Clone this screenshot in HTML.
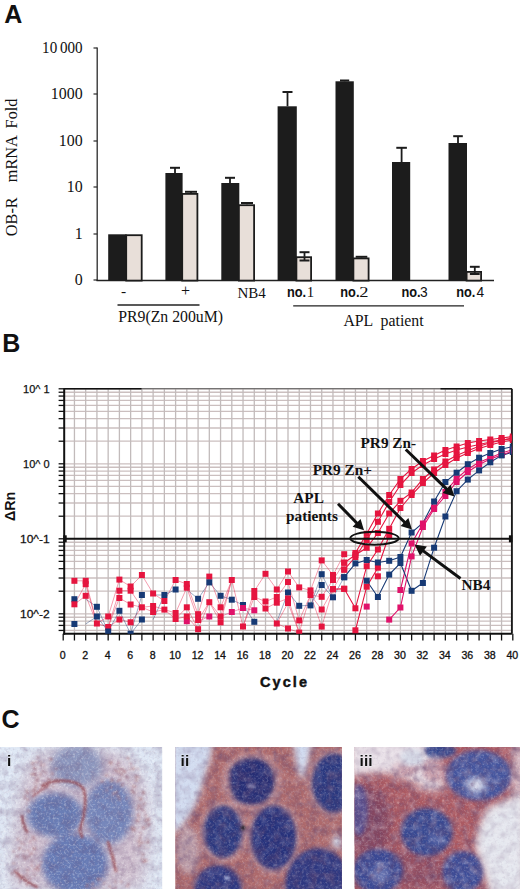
<!DOCTYPE html>
<html><head><meta charset="utf-8"><title>Figure</title>
<style>html,body{margin:0;padding:0;background:#fff;} body{width:520px;height:889px;overflow:hidden;font-family:"Liberation Sans",sans-serif;} svg{display:block;filter:blur(0.3px);}</style>
</head><body>
<svg width="520" height="889" viewBox="0 0 520 889">
<rect width="520" height="889" fill="#fff"/>
<text x="4.3" y="23.1" font-family="'Liberation Sans', sans-serif" font-weight="bold" font-size="25" fill="#111">A</text>
<line x1="97.2" y1="47.5" x2="97.2" y2="281" stroke="#2a2a2a" stroke-width="1.3"/>
<line x1="93.5" y1="48" x2="97.2" y2="48" stroke="#2a2a2a" stroke-width="1.2"/>
<text transform="translate(82.6,53.0) scale(0.92,1)" text-anchor="end" font-family="'Liberation Serif', serif" font-size="16.4" fill="#111">000</text>
<text transform="translate(57.2,53.0) scale(0.92,1)" text-anchor="end" font-family="'Liberation Serif', serif" font-size="16.4" fill="#111">10</text>
<line x1="93.5" y1="94" x2="97.2" y2="94" stroke="#2a2a2a" stroke-width="1.2"/>
<text transform="translate(82.6,99.0) scale(0.97,1)" text-anchor="end" font-family="'Liberation Serif', serif" font-size="16.4" fill="#111">1000</text>
<line x1="93.5" y1="141" x2="97.2" y2="141" stroke="#2a2a2a" stroke-width="1.2"/>
<text transform="translate(82.6,146.0) scale(0.97,1)" text-anchor="end" font-family="'Liberation Serif', serif" font-size="16.4" fill="#111">100</text>
<line x1="93.5" y1="187" x2="97.2" y2="187" stroke="#2a2a2a" stroke-width="1.2"/>
<text transform="translate(82.6,192.0) scale(0.97,1)" text-anchor="end" font-family="'Liberation Serif', serif" font-size="16.4" fill="#111">10</text>
<line x1="93.5" y1="234" x2="97.2" y2="234" stroke="#2a2a2a" stroke-width="1.2"/>
<text transform="translate(82.6,239.0) scale(0.97,1)" text-anchor="end" font-family="'Liberation Serif', serif" font-size="16.4" fill="#111">1</text>
<line x1="93.5" y1="280" x2="97.2" y2="280" stroke="#2a2a2a" stroke-width="1.2"/>
<text transform="translate(82.6,285.0) scale(0.97,1)" text-anchor="end" font-family="'Liberation Serif', serif" font-size="16.4" fill="#111">0</text>
<text transform="translate(16.9,236.2) rotate(-90)" font-family="'Liberation Serif', serif" font-size="16.3" fill="#111">OB-R</text>
<text transform="translate(16.9,182.2) rotate(-90)" font-family="'Liberation Serif', serif" font-size="16.3" fill="#111">mRNA</text>
<text transform="translate(16.9,128.4) rotate(-90)" font-family="'Liberation Serif', serif" font-size="16.3" fill="#111">Fold</text>
<line x1="96.5" y1="280.6" x2="494" y2="280.6" stroke="#222" stroke-width="1.5"/>
<rect x="108.2" y="234.3" width="18.39999999999999" height="46.30000000000001" fill="#1c1c1c"/>
<rect x="126.19999999999999" y="235.20000000000002" width="15.5" height="45.40000000000001" fill="#e8dfd9" stroke="#1c1c1c" stroke-width="1.8"/>
<rect x="165.4" y="173.0" width="17.19999999999999" height="107.60000000000002" fill="#1c1c1c"/>
<rect x="182.2" y="193.9" width="15.200000000000017" height="86.70000000000002" fill="#e8dfd9" stroke="#1c1c1c" stroke-width="1.8"/>
<rect x="221.3" y="183.0" width="18.0" height="97.60000000000002" fill="#1c1c1c"/>
<rect x="238.9" y="205.20000000000002" width="15.199999999999989" height="75.4" fill="#e8dfd9" stroke="#1c1c1c" stroke-width="1.8"/>
<rect x="277.6" y="106.3" width="19.19999999999999" height="174.3" fill="#1c1c1c"/>
<rect x="296.40000000000003" y="257.2" width="14.699999999999989" height="23.400000000000013" fill="#e8dfd9" stroke="#1c1c1c" stroke-width="1.8"/>
<rect x="335.5" y="81.3" width="18.30000000000001" height="199.3" fill="#1c1c1c"/>
<rect x="353.40000000000003" y="258.4" width="15.199999999999989" height="22.200000000000024" fill="#e8dfd9" stroke="#1c1c1c" stroke-width="1.8"/>
<rect x="392.0" y="162.0" width="18.19999999999999" height="118.60000000000002" fill="#1c1c1c"/>
<rect x="448.5" y="143.0" width="18.5" height="137.60000000000002" fill="#1c1c1c"/>
<rect x="466.6" y="271.9" width="14.5" height="8.700000000000022" fill="#e8dfd9" stroke="#1c1c1c" stroke-width="1.8"/>
<line x1="175.0" y1="173" x2="175.0" y2="167.8" stroke="#1c1c1c" stroke-width="1.8"/>
<line x1="170.0" y1="167.8" x2="180.0" y2="167.8" stroke="#1c1c1c" stroke-width="2"/>
<line x1="191.0" y1="193" x2="191.0" y2="191.8" stroke="#1c1c1c" stroke-width="1.8"/>
<line x1="185.0" y1="191.8" x2="197.0" y2="191.8" stroke="#1c1c1c" stroke-width="2"/>
<line x1="230.0" y1="183" x2="230.0" y2="177.8" stroke="#1c1c1c" stroke-width="1.8"/>
<line x1="225.0" y1="177.8" x2="235.0" y2="177.8" stroke="#1c1c1c" stroke-width="2"/>
<line x1="247.0" y1="204.3" x2="247.0" y2="203.0" stroke="#1c1c1c" stroke-width="1.8"/>
<line x1="241.0" y1="203.0" x2="253.0" y2="203.0" stroke="#1c1c1c" stroke-width="2"/>
<line x1="287.5" y1="106.3" x2="287.5" y2="92.0" stroke="#1c1c1c" stroke-width="1.8"/>
<line x1="282.5" y1="92.0" x2="292.5" y2="92.0" stroke="#1c1c1c" stroke-width="2"/>
<line x1="304.5" y1="256.3" x2="304.5" y2="252.2" stroke="#1c1c1c" stroke-width="1.8"/>
<line x1="299.5" y1="252.2" x2="309.5" y2="252.2" stroke="#1c1c1c" stroke-width="2"/>
<line x1="304.5" y1="256.3" x2="304.5" y2="260.5" stroke="#1c1c1c" stroke-width="1.8"/>
<line x1="299.5" y1="260.5" x2="309.5" y2="260.5" stroke="#1c1c1c" stroke-width="2"/>
<line x1="344.6" y1="81.3" x2="344.6" y2="80.5" stroke="#1c1c1c" stroke-width="1.8"/>
<line x1="340.0" y1="80.5" x2="349.20000000000005" y2="80.5" stroke="#1c1c1c" stroke-width="2"/>
<line x1="361.5" y1="257.5" x2="361.5" y2="256.8" stroke="#1c1c1c" stroke-width="1.8"/>
<line x1="355.7" y1="256.8" x2="367.3" y2="256.8" stroke="#1c1c1c" stroke-width="2"/>
<line x1="401.6" y1="162.0" x2="401.6" y2="147.8" stroke="#1c1c1c" stroke-width="1.8"/>
<line x1="396.3" y1="147.8" x2="406.90000000000003" y2="147.8" stroke="#1c1c1c" stroke-width="2"/>
<line x1="458.0" y1="143.0" x2="458.0" y2="136.2" stroke="#1c1c1c" stroke-width="1.8"/>
<line x1="453.2" y1="136.2" x2="462.8" y2="136.2" stroke="#1c1c1c" stroke-width="2"/>
<line x1="474.8" y1="271.0" x2="474.8" y2="266.8" stroke="#1c1c1c" stroke-width="1.8"/>
<line x1="469.90000000000003" y1="266.8" x2="479.7" y2="266.8" stroke="#1c1c1c" stroke-width="2"/>
<line x1="474.8" y1="271.0" x2="474.8" y2="274.0" stroke="#1c1c1c" stroke-width="1.8"/>
<line x1="469.90000000000003" y1="274.0" x2="479.7" y2="274.0" stroke="#1c1c1c" stroke-width="2"/>
<text x="123.6" y="296.2" text-anchor="middle" font-family="'Liberation Serif', serif" font-size="15.5" fill="#111">-</text>
<text x="185.6" y="296.3" text-anchor="middle" font-family="'Liberation Serif', serif" font-size="16" fill="#111">+</text>
<text x="237.5" y="297.6" font-family="'Liberation Serif', serif" font-size="15" fill="#111">NB4</text>
<text transform="translate(287.0,297.0) scale(0.9,1)" font-family="'Liberation Sans', sans-serif" font-weight="bold" font-size="14.2" fill="#111">no.</text>
<text transform="translate(306.8,297.0) scale(1.0,1)" font-family="'Liberation Serif', serif" font-size="14.8" fill="#111">1</text>
<text transform="translate(340.3,297.0) scale(0.9,1)" font-family="'Liberation Sans', sans-serif" font-weight="bold" font-size="14.2" fill="#111">no.</text>
<text transform="translate(359.3,297.0) scale(1.25,1)" font-family="'Liberation Serif', serif" font-size="14.8" fill="#111">2</text>
<text transform="translate(401.4,297.0) scale(0.9,1)" font-family="'Liberation Sans', sans-serif" font-weight="bold" font-size="14.2" fill="#111">no.</text>
<text x="420.1" y="297.0" font-family="'Liberation Sans', sans-serif" font-size="13.8" fill="#111">3</text>
<text transform="translate(456.2,297.0) scale(0.9,1)" font-family="'Liberation Sans', sans-serif" font-weight="bold" font-size="14.2" fill="#111">no.</text>
<text x="476.40000000000003" y="297.0" font-family="'Liberation Sans', sans-serif" font-size="13.8" fill="#111">4</text>
<line x1="117.5" y1="305" x2="199.5" y2="305" stroke="#222" stroke-width="1.3"/>
<line x1="293.2" y1="305.8" x2="464" y2="305.8" stroke="#222" stroke-width="1.3"/>
<text x="118.2" y="322.2" font-family="'Liberation Serif', serif" font-size="15.8" fill="#111">PR9(Zn 200uM)</text>
<text x="343.4" y="326" font-family="'Liberation Serif', serif" font-size="15.8" fill="#111">APL<tspan x="380.6">patient</tspan></text>
<text x="2.2" y="351.6" font-family="'Liberation Sans', sans-serif" font-weight="bold" font-size="25" fill="#111">B</text>
<line x1="64.2" y1="388.8" x2="511.9" y2="388.8" stroke="#cbbfbf" stroke-width="1.3"/>
<line x1="64.2" y1="392.23" x2="511.9" y2="392.23" stroke="#cbbfbf" stroke-width="1.3"/>
<line x1="64.2" y1="396.07" x2="511.9" y2="396.07" stroke="#cbbfbf" stroke-width="1.3"/>
<line x1="64.2" y1="400.42" x2="511.9" y2="400.42" stroke="#cbbfbf" stroke-width="1.3"/>
<line x1="64.2" y1="405.44" x2="511.9" y2="405.44" stroke="#cbbfbf" stroke-width="1.3"/>
<line x1="64.2" y1="411.38" x2="511.9" y2="411.38" stroke="#cbbfbf" stroke-width="1.3"/>
<line x1="64.2" y1="418.65" x2="511.9" y2="418.65" stroke="#cbbfbf" stroke-width="1.3"/>
<line x1="64.2" y1="428.02" x2="511.9" y2="428.02" stroke="#cbbfbf" stroke-width="1.3"/>
<line x1="64.2" y1="441.22" x2="511.9" y2="441.22" stroke="#cbbfbf" stroke-width="1.3"/>
<line x1="64.2" y1="463.8" x2="511.9" y2="463.8" stroke="#cbbfbf" stroke-width="1.3"/>
<line x1="64.2" y1="467.23" x2="511.9" y2="467.23" stroke="#cbbfbf" stroke-width="1.3"/>
<line x1="64.2" y1="471.07" x2="511.9" y2="471.07" stroke="#cbbfbf" stroke-width="1.3"/>
<line x1="64.2" y1="475.42" x2="511.9" y2="475.42" stroke="#cbbfbf" stroke-width="1.3"/>
<line x1="64.2" y1="480.44" x2="511.9" y2="480.44" stroke="#cbbfbf" stroke-width="1.3"/>
<line x1="64.2" y1="486.38" x2="511.9" y2="486.38" stroke="#cbbfbf" stroke-width="1.3"/>
<line x1="64.2" y1="493.65" x2="511.9" y2="493.65" stroke="#cbbfbf" stroke-width="1.3"/>
<line x1="64.2" y1="503.02" x2="511.9" y2="503.02" stroke="#cbbfbf" stroke-width="1.3"/>
<line x1="64.2" y1="516.22" x2="511.9" y2="516.22" stroke="#cbbfbf" stroke-width="1.3"/>
<line x1="64.2" y1="538.8" x2="511.9" y2="538.8" stroke="#cbbfbf" stroke-width="1.3"/>
<line x1="64.2" y1="542.23" x2="511.9" y2="542.23" stroke="#cbbfbf" stroke-width="1.3"/>
<line x1="64.2" y1="546.07" x2="511.9" y2="546.07" stroke="#cbbfbf" stroke-width="1.3"/>
<line x1="64.2" y1="550.42" x2="511.9" y2="550.42" stroke="#cbbfbf" stroke-width="1.3"/>
<line x1="64.2" y1="555.44" x2="511.9" y2="555.44" stroke="#cbbfbf" stroke-width="1.3"/>
<line x1="64.2" y1="561.38" x2="511.9" y2="561.38" stroke="#cbbfbf" stroke-width="1.3"/>
<line x1="64.2" y1="568.65" x2="511.9" y2="568.65" stroke="#cbbfbf" stroke-width="1.3"/>
<line x1="64.2" y1="578.02" x2="511.9" y2="578.02" stroke="#cbbfbf" stroke-width="1.3"/>
<line x1="64.2" y1="591.22" x2="511.9" y2="591.22" stroke="#cbbfbf" stroke-width="1.3"/>
<line x1="64.2" y1="613.8" x2="511.9" y2="613.8" stroke="#cbbfbf" stroke-width="1.3"/>
<line x1="64.2" y1="617.23" x2="511.9" y2="617.23" stroke="#cbbfbf" stroke-width="1.3"/>
<line x1="64.2" y1="621.07" x2="511.9" y2="621.07" stroke="#cbbfbf" stroke-width="1.3"/>
<line x1="64.2" y1="625.42" x2="511.9" y2="625.42" stroke="#cbbfbf" stroke-width="1.3"/>
<line x1="64.2" y1="630.44" x2="511.9" y2="630.44" stroke="#cbbfbf" stroke-width="1.3"/>
<line x1="74.44" y1="388.8" x2="74.44" y2="633.8" stroke="#c2bbbb" stroke-width="1.3"/>
<line x1="85.68" y1="388.8" x2="85.68" y2="633.8" stroke="#c2bbbb" stroke-width="1.3"/>
<line x1="96.92" y1="388.8" x2="96.92" y2="633.8" stroke="#c2bbbb" stroke-width="1.3"/>
<line x1="108.16" y1="388.8" x2="108.16" y2="633.8" stroke="#c2bbbb" stroke-width="1.3"/>
<line x1="119.4" y1="388.8" x2="119.4" y2="633.8" stroke="#c2bbbb" stroke-width="1.3"/>
<line x1="130.64" y1="388.8" x2="130.64" y2="633.8" stroke="#c2bbbb" stroke-width="1.3"/>
<line x1="141.88" y1="388.8" x2="141.88" y2="633.8" stroke="#c2bbbb" stroke-width="1.3"/>
<line x1="153.12" y1="388.8" x2="153.12" y2="633.8" stroke="#c2bbbb" stroke-width="1.3"/>
<line x1="164.36" y1="388.8" x2="164.36" y2="633.8" stroke="#c2bbbb" stroke-width="1.3"/>
<line x1="175.60000000000002" y1="388.8" x2="175.60000000000002" y2="633.8" stroke="#c2bbbb" stroke-width="1.3"/>
<line x1="186.84" y1="388.8" x2="186.84" y2="633.8" stroke="#c2bbbb" stroke-width="1.3"/>
<line x1="198.07999999999998" y1="388.8" x2="198.07999999999998" y2="633.8" stroke="#c2bbbb" stroke-width="1.3"/>
<line x1="209.32" y1="388.8" x2="209.32" y2="633.8" stroke="#c2bbbb" stroke-width="1.3"/>
<line x1="220.56" y1="388.8" x2="220.56" y2="633.8" stroke="#c2bbbb" stroke-width="1.3"/>
<line x1="231.8" y1="388.8" x2="231.8" y2="633.8" stroke="#c2bbbb" stroke-width="1.3"/>
<line x1="243.04000000000002" y1="388.8" x2="243.04000000000002" y2="633.8" stroke="#c2bbbb" stroke-width="1.3"/>
<line x1="254.28000000000003" y1="388.8" x2="254.28000000000003" y2="633.8" stroke="#c2bbbb" stroke-width="1.3"/>
<line x1="265.52" y1="388.8" x2="265.52" y2="633.8" stroke="#c2bbbb" stroke-width="1.3"/>
<line x1="276.76" y1="388.8" x2="276.76" y2="633.8" stroke="#c2bbbb" stroke-width="1.3"/>
<line x1="288.0" y1="388.8" x2="288.0" y2="633.8" stroke="#c2bbbb" stroke-width="1.3"/>
<line x1="299.24" y1="388.8" x2="299.24" y2="633.8" stroke="#c2bbbb" stroke-width="1.3"/>
<line x1="310.48" y1="388.8" x2="310.48" y2="633.8" stroke="#c2bbbb" stroke-width="1.3"/>
<line x1="321.71999999999997" y1="388.8" x2="321.71999999999997" y2="633.8" stroke="#c2bbbb" stroke-width="1.3"/>
<line x1="332.96" y1="388.8" x2="332.96" y2="633.8" stroke="#c2bbbb" stroke-width="1.3"/>
<line x1="344.2" y1="388.8" x2="344.2" y2="633.8" stroke="#c2bbbb" stroke-width="1.3"/>
<line x1="355.44" y1="388.8" x2="355.44" y2="633.8" stroke="#c2bbbb" stroke-width="1.3"/>
<line x1="366.68" y1="388.8" x2="366.68" y2="633.8" stroke="#c2bbbb" stroke-width="1.3"/>
<line x1="377.92" y1="388.8" x2="377.92" y2="633.8" stroke="#c2bbbb" stroke-width="1.3"/>
<line x1="389.15999999999997" y1="388.8" x2="389.15999999999997" y2="633.8" stroke="#c2bbbb" stroke-width="1.3"/>
<line x1="400.4" y1="388.8" x2="400.4" y2="633.8" stroke="#c2bbbb" stroke-width="1.3"/>
<line x1="411.64" y1="388.8" x2="411.64" y2="633.8" stroke="#c2bbbb" stroke-width="1.3"/>
<line x1="422.88" y1="388.8" x2="422.88" y2="633.8" stroke="#c2bbbb" stroke-width="1.3"/>
<line x1="434.12" y1="388.8" x2="434.12" y2="633.8" stroke="#c2bbbb" stroke-width="1.3"/>
<line x1="445.36" y1="388.8" x2="445.36" y2="633.8" stroke="#c2bbbb" stroke-width="1.3"/>
<line x1="456.6" y1="388.8" x2="456.6" y2="633.8" stroke="#c2bbbb" stroke-width="1.3"/>
<line x1="467.84" y1="388.8" x2="467.84" y2="633.8" stroke="#c2bbbb" stroke-width="1.3"/>
<line x1="479.08" y1="388.8" x2="479.08" y2="633.8" stroke="#c2bbbb" stroke-width="1.3"/>
<line x1="490.32" y1="388.8" x2="490.32" y2="633.8" stroke="#c2bbbb" stroke-width="1.3"/>
<line x1="501.56" y1="388.8" x2="501.56" y2="633.8" stroke="#c2bbbb" stroke-width="1.3"/>
<line x1="58.6" y1="388.8" x2="64.2" y2="388.8" stroke="#111" stroke-width="1.3"/>
<line x1="58.6" y1="392.23" x2="64.2" y2="392.23" stroke="#111" stroke-width="1.3"/>
<line x1="58.6" y1="396.07" x2="64.2" y2="396.07" stroke="#111" stroke-width="1.3"/>
<line x1="58.6" y1="400.42" x2="64.2" y2="400.42" stroke="#111" stroke-width="1.3"/>
<line x1="58.6" y1="405.44" x2="64.2" y2="405.44" stroke="#111" stroke-width="1.3"/>
<line x1="58.6" y1="411.38" x2="64.2" y2="411.38" stroke="#111" stroke-width="1.3"/>
<line x1="58.6" y1="418.65" x2="64.2" y2="418.65" stroke="#111" stroke-width="1.3"/>
<line x1="58.6" y1="428.02" x2="64.2" y2="428.02" stroke="#111" stroke-width="1.3"/>
<line x1="58.6" y1="441.22" x2="64.2" y2="441.22" stroke="#111" stroke-width="1.3"/>
<line x1="58.6" y1="463.8" x2="64.2" y2="463.8" stroke="#111" stroke-width="1.3"/>
<line x1="58.6" y1="467.23" x2="64.2" y2="467.23" stroke="#111" stroke-width="1.3"/>
<line x1="58.6" y1="471.07" x2="64.2" y2="471.07" stroke="#111" stroke-width="1.3"/>
<line x1="58.6" y1="475.42" x2="64.2" y2="475.42" stroke="#111" stroke-width="1.3"/>
<line x1="58.6" y1="480.44" x2="64.2" y2="480.44" stroke="#111" stroke-width="1.3"/>
<line x1="58.6" y1="486.38" x2="64.2" y2="486.38" stroke="#111" stroke-width="1.3"/>
<line x1="58.6" y1="493.65" x2="64.2" y2="493.65" stroke="#111" stroke-width="1.3"/>
<line x1="58.6" y1="503.02" x2="64.2" y2="503.02" stroke="#111" stroke-width="1.3"/>
<line x1="58.6" y1="516.22" x2="64.2" y2="516.22" stroke="#111" stroke-width="1.3"/>
<line x1="58.6" y1="538.8" x2="64.2" y2="538.8" stroke="#111" stroke-width="1.3"/>
<line x1="58.6" y1="542.23" x2="64.2" y2="542.23" stroke="#111" stroke-width="1.3"/>
<line x1="58.6" y1="546.07" x2="64.2" y2="546.07" stroke="#111" stroke-width="1.3"/>
<line x1="58.6" y1="550.42" x2="64.2" y2="550.42" stroke="#111" stroke-width="1.3"/>
<line x1="58.6" y1="555.44" x2="64.2" y2="555.44" stroke="#111" stroke-width="1.3"/>
<line x1="58.6" y1="561.38" x2="64.2" y2="561.38" stroke="#111" stroke-width="1.3"/>
<line x1="58.6" y1="568.65" x2="64.2" y2="568.65" stroke="#111" stroke-width="1.3"/>
<line x1="58.6" y1="578.02" x2="64.2" y2="578.02" stroke="#111" stroke-width="1.3"/>
<line x1="58.6" y1="591.22" x2="64.2" y2="591.22" stroke="#111" stroke-width="1.3"/>
<line x1="58.6" y1="613.8" x2="64.2" y2="613.8" stroke="#111" stroke-width="1.3"/>
<line x1="58.6" y1="617.23" x2="64.2" y2="617.23" stroke="#111" stroke-width="1.3"/>
<line x1="58.6" y1="621.07" x2="64.2" y2="621.07" stroke="#111" stroke-width="1.3"/>
<line x1="58.6" y1="625.42" x2="64.2" y2="625.42" stroke="#111" stroke-width="1.3"/>
<line x1="58.6" y1="630.44" x2="64.2" y2="630.44" stroke="#111" stroke-width="1.3"/>
<line x1="63.2" y1="633.8" x2="63.2" y2="640.5" stroke="#111" stroke-width="1.3"/>
<line x1="74.44" y1="633.8" x2="74.44" y2="640.5" stroke="#111" stroke-width="1.3"/>
<line x1="85.68" y1="633.8" x2="85.68" y2="640.5" stroke="#111" stroke-width="1.3"/>
<line x1="96.92" y1="633.8" x2="96.92" y2="640.5" stroke="#111" stroke-width="1.3"/>
<line x1="108.16" y1="633.8" x2="108.16" y2="640.5" stroke="#111" stroke-width="1.3"/>
<line x1="119.4" y1="633.8" x2="119.4" y2="640.5" stroke="#111" stroke-width="1.3"/>
<line x1="130.64" y1="633.8" x2="130.64" y2="640.5" stroke="#111" stroke-width="1.3"/>
<line x1="141.88" y1="633.8" x2="141.88" y2="640.5" stroke="#111" stroke-width="1.3"/>
<line x1="153.12" y1="633.8" x2="153.12" y2="640.5" stroke="#111" stroke-width="1.3"/>
<line x1="164.36" y1="633.8" x2="164.36" y2="640.5" stroke="#111" stroke-width="1.3"/>
<line x1="175.60000000000002" y1="633.8" x2="175.60000000000002" y2="640.5" stroke="#111" stroke-width="1.3"/>
<line x1="186.84" y1="633.8" x2="186.84" y2="640.5" stroke="#111" stroke-width="1.3"/>
<line x1="198.07999999999998" y1="633.8" x2="198.07999999999998" y2="640.5" stroke="#111" stroke-width="1.3"/>
<line x1="209.32" y1="633.8" x2="209.32" y2="640.5" stroke="#111" stroke-width="1.3"/>
<line x1="220.56" y1="633.8" x2="220.56" y2="640.5" stroke="#111" stroke-width="1.3"/>
<line x1="231.8" y1="633.8" x2="231.8" y2="640.5" stroke="#111" stroke-width="1.3"/>
<line x1="243.04000000000002" y1="633.8" x2="243.04000000000002" y2="640.5" stroke="#111" stroke-width="1.3"/>
<line x1="254.28000000000003" y1="633.8" x2="254.28000000000003" y2="640.5" stroke="#111" stroke-width="1.3"/>
<line x1="265.52" y1="633.8" x2="265.52" y2="640.5" stroke="#111" stroke-width="1.3"/>
<line x1="276.76" y1="633.8" x2="276.76" y2="640.5" stroke="#111" stroke-width="1.3"/>
<line x1="288.0" y1="633.8" x2="288.0" y2="640.5" stroke="#111" stroke-width="1.3"/>
<line x1="299.24" y1="633.8" x2="299.24" y2="640.5" stroke="#111" stroke-width="1.3"/>
<line x1="310.48" y1="633.8" x2="310.48" y2="640.5" stroke="#111" stroke-width="1.3"/>
<line x1="321.71999999999997" y1="633.8" x2="321.71999999999997" y2="640.5" stroke="#111" stroke-width="1.3"/>
<line x1="332.96" y1="633.8" x2="332.96" y2="640.5" stroke="#111" stroke-width="1.3"/>
<line x1="344.2" y1="633.8" x2="344.2" y2="640.5" stroke="#111" stroke-width="1.3"/>
<line x1="355.44" y1="633.8" x2="355.44" y2="640.5" stroke="#111" stroke-width="1.3"/>
<line x1="366.68" y1="633.8" x2="366.68" y2="640.5" stroke="#111" stroke-width="1.3"/>
<line x1="377.92" y1="633.8" x2="377.92" y2="640.5" stroke="#111" stroke-width="1.3"/>
<line x1="389.15999999999997" y1="633.8" x2="389.15999999999997" y2="640.5" stroke="#111" stroke-width="1.3"/>
<line x1="400.4" y1="633.8" x2="400.4" y2="640.5" stroke="#111" stroke-width="1.3"/>
<line x1="411.64" y1="633.8" x2="411.64" y2="640.5" stroke="#111" stroke-width="1.3"/>
<line x1="422.88" y1="633.8" x2="422.88" y2="640.5" stroke="#111" stroke-width="1.3"/>
<line x1="434.12" y1="633.8" x2="434.12" y2="640.5" stroke="#111" stroke-width="1.3"/>
<line x1="445.36" y1="633.8" x2="445.36" y2="640.5" stroke="#111" stroke-width="1.3"/>
<line x1="456.6" y1="633.8" x2="456.6" y2="640.5" stroke="#111" stroke-width="1.3"/>
<line x1="467.84" y1="633.8" x2="467.84" y2="640.5" stroke="#111" stroke-width="1.3"/>
<line x1="479.08" y1="633.8" x2="479.08" y2="640.5" stroke="#111" stroke-width="1.3"/>
<line x1="490.32" y1="633.8" x2="490.32" y2="640.5" stroke="#111" stroke-width="1.3"/>
<line x1="501.56" y1="633.8" x2="501.56" y2="640.5" stroke="#111" stroke-width="1.3"/>
<line x1="512.8000000000001" y1="633.8" x2="512.8000000000001" y2="640.5" stroke="#111" stroke-width="1.3"/>
<line x1="64.2" y1="388.8" x2="511.9" y2="388.8" stroke="#555" stroke-width="1.1"/>
<line x1="64.2" y1="388.8" x2="141.5" y2="388.8" stroke="#111" stroke-width="1.6"/>
<line x1="440.5" y1="388.8" x2="511.9" y2="388.8" stroke="#111" stroke-width="1.6"/>
<line x1="64.2" y1="388.3" x2="64.2" y2="634.8" stroke="#111" stroke-width="2"/>
<line x1="511.9" y1="388.8" x2="511.9" y2="633.8" stroke="#1a1a1a" stroke-width="1.9"/>
<line x1="63.2" y1="633.8" x2="511.9" y2="633.8" stroke="#111" stroke-width="2"/>
<text transform="translate(49.6,393.0) scale(1.0,1)" text-anchor="end" font-family="'Liberation Sans', sans-serif" font-size="11" fill="#111" stroke="#111" stroke-width="0.25" xml:space="preserve">10^ 1</text>
<text transform="translate(49.6,468.0) scale(1.0,1)" text-anchor="end" font-family="'Liberation Sans', sans-serif" font-size="11" fill="#111" stroke="#111" stroke-width="0.25" xml:space="preserve">10^ 0</text>
<text transform="translate(49.6,543.0) scale(1.09,1)" text-anchor="end" font-family="'Liberation Sans', sans-serif" font-size="11" fill="#111" stroke="#111" stroke-width="0.25" xml:space="preserve">10^-1</text>
<text transform="translate(49.6,618.0) scale(1.09,1)" text-anchor="end" font-family="'Liberation Sans', sans-serif" font-size="11" fill="#111" stroke="#111" stroke-width="0.25" xml:space="preserve">10^-2</text>
<text x="62.7" y="658.8" text-anchor="middle" font-family="'Liberation Sans', sans-serif" font-size="10.6" fill="#111" stroke="#111" stroke-width="0.3">0</text>
<text x="85.18" y="658.8" text-anchor="middle" font-family="'Liberation Sans', sans-serif" font-size="10.6" fill="#111" stroke="#111" stroke-width="0.3">2</text>
<text x="107.66" y="658.8" text-anchor="middle" font-family="'Liberation Sans', sans-serif" font-size="10.6" fill="#111" stroke="#111" stroke-width="0.3">4</text>
<text x="130.14" y="658.8" text-anchor="middle" font-family="'Liberation Sans', sans-serif" font-size="10.6" fill="#111" stroke="#111" stroke-width="0.3">6</text>
<text x="152.62" y="658.8" text-anchor="middle" font-family="'Liberation Sans', sans-serif" font-size="10.6" fill="#111" stroke="#111" stroke-width="0.3">8</text>
<text x="175.10000000000002" y="658.8" text-anchor="middle" font-family="'Liberation Sans', sans-serif" font-size="10.6" fill="#111" stroke="#111" stroke-width="0.3">10</text>
<text x="197.57999999999998" y="658.8" text-anchor="middle" font-family="'Liberation Sans', sans-serif" font-size="10.6" fill="#111" stroke="#111" stroke-width="0.3">12</text>
<text x="220.06" y="658.8" text-anchor="middle" font-family="'Liberation Sans', sans-serif" font-size="10.6" fill="#111" stroke="#111" stroke-width="0.3">14</text>
<text x="242.54000000000002" y="658.8" text-anchor="middle" font-family="'Liberation Sans', sans-serif" font-size="10.6" fill="#111" stroke="#111" stroke-width="0.3">16</text>
<text x="265.02" y="658.8" text-anchor="middle" font-family="'Liberation Sans', sans-serif" font-size="10.6" fill="#111" stroke="#111" stroke-width="0.3">18</text>
<text x="287.5" y="658.8" text-anchor="middle" font-family="'Liberation Sans', sans-serif" font-size="10.6" fill="#111" stroke="#111" stroke-width="0.3">20</text>
<text x="309.98" y="658.8" text-anchor="middle" font-family="'Liberation Sans', sans-serif" font-size="10.6" fill="#111" stroke="#111" stroke-width="0.3">22</text>
<text x="332.46" y="658.8" text-anchor="middle" font-family="'Liberation Sans', sans-serif" font-size="10.6" fill="#111" stroke="#111" stroke-width="0.3">24</text>
<text x="354.94" y="658.8" text-anchor="middle" font-family="'Liberation Sans', sans-serif" font-size="10.6" fill="#111" stroke="#111" stroke-width="0.3">26</text>
<text x="377.42" y="658.8" text-anchor="middle" font-family="'Liberation Sans', sans-serif" font-size="10.6" fill="#111" stroke="#111" stroke-width="0.3">28</text>
<text x="399.9" y="658.8" text-anchor="middle" font-family="'Liberation Sans', sans-serif" font-size="10.6" fill="#111" stroke="#111" stroke-width="0.3">30</text>
<text x="422.38" y="658.8" text-anchor="middle" font-family="'Liberation Sans', sans-serif" font-size="10.6" fill="#111" stroke="#111" stroke-width="0.3">32</text>
<text x="444.86" y="658.8" text-anchor="middle" font-family="'Liberation Sans', sans-serif" font-size="10.6" fill="#111" stroke="#111" stroke-width="0.3">34</text>
<text x="467.34" y="658.8" text-anchor="middle" font-family="'Liberation Sans', sans-serif" font-size="10.6" fill="#111" stroke="#111" stroke-width="0.3">36</text>
<text x="489.82" y="658.8" text-anchor="middle" font-family="'Liberation Sans', sans-serif" font-size="10.6" fill="#111" stroke="#111" stroke-width="0.3">38</text>
<text x="512.3000000000001" y="658.8" text-anchor="middle" font-family="'Liberation Sans', sans-serif" font-size="10.6" fill="#111" stroke="#111" stroke-width="0.3">40</text>
<text x="259.9" y="687" font-family="'Liberation Sans', sans-serif" font-weight="bold" font-size="14.5" letter-spacing="2.1" fill="#111" stroke="#111" stroke-width="0.45">Cycle</text>
<text transform="translate(14.6,521) rotate(-90)" font-family="'Liberation Sans', sans-serif" font-weight="bold" font-size="14.3" fill="#111">&#916;Rn</text>
<defs><clipPath id="pc"><rect x="64.2" y="388.8" width="447.4" height="244.99999999999994"/></clipPath></defs><g clip-path="url(#pc)">
<line x1="74.4" y1="580.8" x2="85.7" y2="580.8" stroke="#e5153f" stroke-width="0.7" opacity="0.6"/>
<line x1="74.4" y1="604.3" x2="85.7" y2="584.2" stroke="#e5153f" stroke-width="0.7" opacity="0.6"/>
<line x1="74.4" y1="604.3" x2="85.7" y2="595.8" stroke="#e5153f" stroke-width="0.7" opacity="0.6"/>
<line x1="85.7" y1="599.2" x2="96.9" y2="606.8" stroke="#173a75" stroke-width="0.7" opacity="0.6"/>
<line x1="85.7" y1="624" x2="96.9" y2="616.5" stroke="#173a75" stroke-width="0.7" opacity="0.6"/>
<line x1="85.7" y1="580.8" x2="96.9" y2="623.5" stroke="#e5153f" stroke-width="0.7" opacity="0.6"/>
<line x1="85.7" y1="584.2" x2="96.9" y2="623.5" stroke="#e5153f" stroke-width="0.7" opacity="0.6"/>
<line x1="85.7" y1="595.8" x2="96.9" y2="623.5" stroke="#e5153f" stroke-width="0.7" opacity="0.6"/>
<line x1="96.9" y1="623.5" x2="108.2" y2="616.5" stroke="#e5153f" stroke-width="0.7" opacity="0.6"/>
<line x1="96.9" y1="623.5" x2="108.2" y2="627" stroke="#e5153f" stroke-width="0.7" opacity="0.6"/>
<line x1="96.9" y1="606.8" x2="108.2" y2="631.5" stroke="#173a75" stroke-width="0.7" opacity="0.6"/>
<line x1="96.9" y1="616.5" x2="108.2" y2="631.5" stroke="#173a75" stroke-width="0.7" opacity="0.6"/>
<line x1="108.2" y1="616.5" x2="119.4" y2="579.6" stroke="#e5153f" stroke-width="0.7" opacity="0.6"/>
<line x1="108.2" y1="627" x2="119.4" y2="590.7" stroke="#e5153f" stroke-width="0.7" opacity="0.6"/>
<line x1="108.2" y1="627" x2="119.4" y2="598" stroke="#e5153f" stroke-width="0.7" opacity="0.6"/>
<line x1="108.2" y1="627" x2="119.4" y2="619.5" stroke="#e5153f" stroke-width="0.7" opacity="0.6"/>
<line x1="108.2" y1="631.5" x2="119.4" y2="610.8" stroke="#173a75" stroke-width="0.7" opacity="0.6"/>
<line x1="119.4" y1="579.6" x2="130.6" y2="586.5" stroke="#e5153f" stroke-width="0.7" opacity="0.6"/>
<line x1="119.4" y1="590.7" x2="130.6" y2="590.7" stroke="#e5153f" stroke-width="0.7" opacity="0.6"/>
<line x1="119.4" y1="598" x2="130.6" y2="604.5" stroke="#e5153f" stroke-width="0.7" opacity="0.6"/>
<line x1="119.4" y1="619.5" x2="130.6" y2="622.3" stroke="#e5153f" stroke-width="0.7" opacity="0.6"/>
<line x1="119.4" y1="610.8" x2="130.6" y2="633.8" stroke="#173a75" stroke-width="0.7" opacity="0.6"/>
<line x1="130.6" y1="586.5" x2="141.9" y2="575" stroke="#e5153f" stroke-width="0.7" opacity="0.6"/>
<line x1="130.6" y1="590.7" x2="141.9" y2="607.3" stroke="#e5153f" stroke-width="0.7" opacity="0.6"/>
<line x1="130.6" y1="604.5" x2="141.9" y2="607.3" stroke="#e5153f" stroke-width="0.7" opacity="0.6"/>
<line x1="130.6" y1="622.3" x2="141.9" y2="607.3" stroke="#e5153f" stroke-width="0.7" opacity="0.6"/>
<line x1="130.6" y1="633.8" x2="141.9" y2="595" stroke="#173a75" stroke-width="0.7" opacity="0.6"/>
<line x1="130.6" y1="633.8" x2="141.9" y2="619.5" stroke="#173a75" stroke-width="0.7" opacity="0.6"/>
<line x1="141.9" y1="575" x2="153.1" y2="593.5" stroke="#e5153f" stroke-width="0.7" opacity="0.6"/>
<line x1="141.9" y1="607.3" x2="153.1" y2="606" stroke="#e5153f" stroke-width="0.7" opacity="0.6"/>
<line x1="141.9" y1="607.3" x2="153.1" y2="612" stroke="#e5153f" stroke-width="0.7" opacity="0.6"/>
<line x1="153.1" y1="595" x2="164.4" y2="595" stroke="#173a75" stroke-width="0.7" opacity="0.6"/>
<line x1="153.1" y1="619.5" x2="164.4" y2="595" stroke="#173a75" stroke-width="0.7" opacity="0.6"/>
<line x1="153.1" y1="593.5" x2="164.4" y2="601" stroke="#e5153f" stroke-width="0.7" opacity="0.6"/>
<line x1="153.1" y1="606" x2="164.4" y2="609.6" stroke="#e5153f" stroke-width="0.7" opacity="0.6"/>
<line x1="153.1" y1="612" x2="164.4" y2="609.6" stroke="#e5153f" stroke-width="0.7" opacity="0.6"/>
<line x1="164.4" y1="601" x2="175.6" y2="580" stroke="#e5153f" stroke-width="0.7" opacity="0.6"/>
<line x1="164.4" y1="609.6" x2="175.6" y2="613" stroke="#e5153f" stroke-width="0.7" opacity="0.6"/>
<line x1="164.4" y1="609.6" x2="175.6" y2="619" stroke="#e5153f" stroke-width="0.7" opacity="0.6"/>
<line x1="164.4" y1="595" x2="175.6" y2="589.5" stroke="#173a75" stroke-width="0.7" opacity="0.6"/>
<line x1="175.6" y1="580" x2="186.8" y2="584" stroke="#e5153f" stroke-width="0.7" opacity="0.6"/>
<line x1="175.6" y1="613" x2="186.8" y2="587.7" stroke="#e5153f" stroke-width="0.7" opacity="0.6"/>
<line x1="175.6" y1="619" x2="186.8" y2="607.3" stroke="#e5153f" stroke-width="0.7" opacity="0.6"/>
<line x1="175.6" y1="619" x2="186.8" y2="616.5" stroke="#e5153f" stroke-width="0.7" opacity="0.6"/>
<line x1="186.8" y1="589.5" x2="198.1" y2="598.8" stroke="#173a75" stroke-width="0.7" opacity="0.6"/>
<line x1="186.8" y1="584" x2="198.1" y2="614.2" stroke="#e5153f" stroke-width="0.7" opacity="0.6"/>
<line x1="186.8" y1="587.7" x2="198.1" y2="620" stroke="#e5153f" stroke-width="0.7" opacity="0.6"/>
<line x1="186.8" y1="607.3" x2="198.1" y2="629.2" stroke="#e5153f" stroke-width="0.7" opacity="0.6"/>
<line x1="186.8" y1="616.5" x2="198.1" y2="629.2" stroke="#e5153f" stroke-width="0.7" opacity="0.6"/>
<line x1="198.1" y1="614.2" x2="209.3" y2="576.6" stroke="#e5153f" stroke-width="0.7" opacity="0.6"/>
<line x1="198.1" y1="620" x2="209.3" y2="602.2" stroke="#e5153f" stroke-width="0.7" opacity="0.6"/>
<line x1="198.1" y1="629.2" x2="209.3" y2="602.2" stroke="#e5153f" stroke-width="0.7" opacity="0.6"/>
<line x1="198.1" y1="598.8" x2="209.3" y2="582.4" stroke="#173a75" stroke-width="0.7" opacity="0.6"/>
<line x1="198.1" y1="621.2" x2="209.3" y2="616.5" stroke="#e0126a" stroke-width="0.7" opacity="0.6"/>
<line x1="209.3" y1="582.4" x2="220.6" y2="595.8" stroke="#173a75" stroke-width="0.7" opacity="0.6"/>
<line x1="209.3" y1="576.6" x2="220.6" y2="607.3" stroke="#e5153f" stroke-width="0.7" opacity="0.6"/>
<line x1="209.3" y1="602.2" x2="220.6" y2="616.5" stroke="#e5153f" stroke-width="0.7" opacity="0.6"/>
<line x1="209.3" y1="602.2" x2="220.6" y2="622.3" stroke="#e5153f" stroke-width="0.7" opacity="0.6"/>
<line x1="220.6" y1="607.3" x2="231.8" y2="580" stroke="#e5153f" stroke-width="0.7" opacity="0.6"/>
<line x1="220.6" y1="616.5" x2="231.8" y2="580" stroke="#e5153f" stroke-width="0.7" opacity="0.6"/>
<line x1="220.6" y1="622.3" x2="231.8" y2="580" stroke="#e5153f" stroke-width="0.7" opacity="0.6"/>
<line x1="220.6" y1="595.8" x2="231.8" y2="599.7" stroke="#173a75" stroke-width="0.7" opacity="0.6"/>
<line x1="220.6" y1="616.5" x2="231.8" y2="612" stroke="#e0126a" stroke-width="0.7" opacity="0.6"/>
<line x1="231.8" y1="599.7" x2="243.0" y2="605" stroke="#173a75" stroke-width="0.7" opacity="0.6"/>
<line x1="231.8" y1="612" x2="243.0" y2="608" stroke="#e0126a" stroke-width="0.7" opacity="0.6"/>
<line x1="231.8" y1="580" x2="243.0" y2="626.5" stroke="#e5153f" stroke-width="0.7" opacity="0.6"/>
<line x1="243.0" y1="626.5" x2="254.3" y2="591" stroke="#e5153f" stroke-width="0.7" opacity="0.6"/>
<line x1="243.0" y1="626.5" x2="254.3" y2="597" stroke="#e5153f" stroke-width="0.7" opacity="0.6"/>
<line x1="243.0" y1="608" x2="254.3" y2="610.3" stroke="#e0126a" stroke-width="0.7" opacity="0.6"/>
<line x1="243.0" y1="605" x2="254.3" y2="621.8" stroke="#173a75" stroke-width="0.7" opacity="0.6"/>
<line x1="254.3" y1="591" x2="265.5" y2="573.8" stroke="#e5153f" stroke-width="0.7" opacity="0.6"/>
<line x1="254.3" y1="597" x2="265.5" y2="601.5" stroke="#e5153f" stroke-width="0.7" opacity="0.6"/>
<line x1="254.3" y1="597" x2="265.5" y2="608.5" stroke="#e5153f" stroke-width="0.7" opacity="0.6"/>
<line x1="265.5" y1="573.8" x2="276.8" y2="589.5" stroke="#e5153f" stroke-width="0.7" opacity="0.6"/>
<line x1="265.5" y1="601.5" x2="276.8" y2="597" stroke="#e5153f" stroke-width="0.7" opacity="0.6"/>
<line x1="265.5" y1="608.5" x2="276.8" y2="602.7" stroke="#e5153f" stroke-width="0.7" opacity="0.6"/>
<line x1="265.5" y1="608.5" x2="276.8" y2="623.5" stroke="#e5153f" stroke-width="0.7" opacity="0.6"/>
<line x1="276.8" y1="589.5" x2="288.0" y2="571.5" stroke="#e5153f" stroke-width="0.7" opacity="0.6"/>
<line x1="276.8" y1="597" x2="288.0" y2="582" stroke="#e5153f" stroke-width="0.7" opacity="0.6"/>
<line x1="276.8" y1="602.7" x2="288.0" y2="598.5" stroke="#e5153f" stroke-width="0.7" opacity="0.6"/>
<line x1="276.8" y1="623.5" x2="288.0" y2="603" stroke="#e5153f" stroke-width="0.7" opacity="0.6"/>
<line x1="276.8" y1="623.5" x2="288.0" y2="628.5" stroke="#e5153f" stroke-width="0.7" opacity="0.6"/>
<line x1="276.8" y1="621.8" x2="288.0" y2="592.5" stroke="#173a75" stroke-width="0.7" opacity="0.6"/>
<line x1="288.0" y1="571.5" x2="299.2" y2="587.4" stroke="#e5153f" stroke-width="0.7" opacity="0.6"/>
<line x1="288.0" y1="582" x2="299.2" y2="620.4" stroke="#e5153f" stroke-width="0.7" opacity="0.6"/>
<line x1="288.0" y1="598.5" x2="299.2" y2="632.6" stroke="#e5153f" stroke-width="0.7" opacity="0.6"/>
<line x1="288.0" y1="603" x2="299.2" y2="632.6" stroke="#e5153f" stroke-width="0.7" opacity="0.6"/>
<line x1="288.0" y1="628.5" x2="299.2" y2="632.6" stroke="#e5153f" stroke-width="0.7" opacity="0.6"/>
<line x1="288.0" y1="592.5" x2="299.2" y2="605.8" stroke="#173a75" stroke-width="0.7" opacity="0.6"/>
<line x1="299.2" y1="587.4" x2="310.5" y2="590.4" stroke="#e5153f" stroke-width="0.7" opacity="0.6"/>
<line x1="299.2" y1="620.4" x2="310.5" y2="595" stroke="#e5153f" stroke-width="0.7" opacity="0.6"/>
<line x1="299.2" y1="632.6" x2="310.5" y2="595" stroke="#e5153f" stroke-width="0.7" opacity="0.6"/>
<line x1="299.2" y1="605.8" x2="310.5" y2="605.4" stroke="#173a75" stroke-width="0.7" opacity="0.6"/>
<line x1="310.5" y1="590.4" x2="321.7" y2="560.4" stroke="#e5153f" stroke-width="0.7" opacity="0.6"/>
<line x1="310.5" y1="595" x2="321.7" y2="596.8" stroke="#e5153f" stroke-width="0.7" opacity="0.6"/>
<line x1="310.5" y1="595" x2="321.7" y2="609.5" stroke="#e5153f" stroke-width="0.7" opacity="0.6"/>
<line x1="310.5" y1="595" x2="321.7" y2="626.6" stroke="#e5153f" stroke-width="0.7" opacity="0.6"/>
<line x1="310.5" y1="605.4" x2="321.7" y2="574.2" stroke="#173a75" stroke-width="0.7" opacity="0.6"/>
<line x1="310.5" y1="605.4" x2="321.7" y2="585" stroke="#173a75" stroke-width="0.7" opacity="0.6"/>
<line x1="321.7" y1="560.4" x2="333.0" y2="575" stroke="#e5153f" stroke-width="0.7" opacity="0.6"/>
<line x1="321.7" y1="596.8" x2="333.0" y2="580" stroke="#e5153f" stroke-width="0.7" opacity="0.6"/>
<line x1="321.7" y1="609.5" x2="333.0" y2="589.2" stroke="#e5153f" stroke-width="0.7" opacity="0.6"/>
<line x1="321.7" y1="626.6" x2="333.0" y2="589.2" stroke="#e5153f" stroke-width="0.7" opacity="0.6"/>
<line x1="321.7" y1="574.2" x2="333.0" y2="597.3" stroke="#173a75" stroke-width="0.7" opacity="0.6"/>
<line x1="321.7" y1="585" x2="333.0" y2="597.3" stroke="#173a75" stroke-width="0.7" opacity="0.6"/>
<line x1="333.0" y1="575" x2="344.2" y2="554.2" stroke="#e5153f" stroke-width="0.7" opacity="0.6"/>
<line x1="333.0" y1="580" x2="344.2" y2="562.7" stroke="#e5153f" stroke-width="0.7" opacity="0.6"/>
<line x1="333.0" y1="589.2" x2="344.2" y2="569.6" stroke="#e5153f" stroke-width="0.7" opacity="0.6"/>
<line x1="333.0" y1="589.2" x2="344.2" y2="588.8" stroke="#e5153f" stroke-width="0.7" opacity="0.6"/>
<line x1="333.0" y1="597.3" x2="344.2" y2="577.2" stroke="#173a75" stroke-width="0.7" opacity="0.6"/>
<polyline points="355.4,553 366.7,533.8 377.9,513.5 389.2,495 400.4,479 411.6,469 422.9,461 434.1,455.5 445.4,450 456.6,446.5 467.8,443 479.1,441 490.3,439.5 501.6,438 512.8,436.5" fill="none" stroke="#e5153f" stroke-width="1.1"/>
<polyline points="344.2,569.6 355.4,557 366.7,540 377.9,521.8 389.2,502 400.4,485 411.6,473 422.9,465 434.1,459 445.4,454 456.6,450 467.8,447 479.1,444.5 490.3,442 501.6,440 512.8,438.5" fill="none" stroke="#e5153f" stroke-width="1.1"/>
<polyline points="344.2,562.7 355.4,555 366.7,547.8 377.9,533 389.2,513.5 400.4,500.8 411.6,492.5 422.9,479 434.1,469.5 445.4,461.5 456.6,455.4 467.8,450.8 479.1,446.2 490.3,442.7 501.6,440.4 512.8,438" fill="none" stroke="#e5153f" stroke-width="1.1"/>
<polyline points="333.0,589.2 344.2,588.8 355.4,608.3 366.7,566.2 377.9,549.5 389.2,528.8 400.4,508 411.6,495 422.9,483 434.1,473 445.4,465 456.6,458 467.8,453 479.1,448.5 490.3,445 501.6,442 512.8,440" fill="none" stroke="#e5153f" stroke-width="1.1"/>
<polyline points="344.2,577.2 355.4,563.4 366.7,560 377.9,562.5 389.2,560.8 400.4,557 411.6,532.5 422.9,523 434.1,501.5 445.4,482 456.6,472.7 467.8,464.2 479.1,457.7 490.3,453 501.6,449 512.8,446.6" fill="none" stroke="#173a75" stroke-width="1.1"/>
<polyline points="400.4,590 411.6,543.5 422.9,523.5 434.1,507.5 445.4,492 456.6,478.5 467.8,469.2 479.1,462.3 490.3,457.7 501.6,453 512.8,449.6" fill="none" stroke="#e0126a" stroke-width="1.1"/>
<polyline points="366.7,580.7 377.9,597 389.2,574.6 400.4,563 411.6,590.8 422.9,583 434.1,547.7 445.4,516.5 456.6,491.2 467.8,479.6 479.1,470.4 490.3,462.3 501.6,455.4 512.8,452" fill="none" stroke="#173a75" stroke-width="1.1"/>
<polyline points="389.2,619.6 400.4,607.5 411.6,556.4 422.9,527 434.1,509 445.4,496 456.6,482 467.8,472 479.1,464.5 490.3,459 501.6,455 512.8,451" fill="none" stroke="#e0126a" stroke-width="1.1"/>
<polyline points="355.4,630.3 366.7,586.7 377.9,567.7 389.2,535" fill="none" stroke="#e5153f" stroke-width="1.1"/>
<rect x="71.4" y="577.8" width="6.0" height="6.0" fill="#e5153f"/>
<rect x="71.4" y="596.2" width="6.0" height="6.0" fill="#173a75"/>
<rect x="71.4" y="601.3" width="6.0" height="6.0" fill="#e5153f"/>
<rect x="71.4" y="621.0" width="6.0" height="6.0" fill="#173a75"/>
<rect x="82.7" y="577.8" width="6.0" height="6.0" fill="#e5153f"/>
<rect x="82.7" y="581.2" width="6.0" height="6.0" fill="#e5153f"/>
<rect x="82.7" y="592.8" width="6.0" height="6.0" fill="#e5153f"/>
<rect x="93.9" y="603.8" width="6.0" height="6.0" fill="#173a75"/>
<rect x="93.9" y="613.5" width="6.0" height="6.0" fill="#173a75"/>
<rect x="93.9" y="620.5" width="6.0" height="6.0" fill="#e5153f"/>
<rect x="105.2" y="613.5" width="6.0" height="6.0" fill="#e5153f"/>
<rect x="105.2" y="624.0" width="6.0" height="6.0" fill="#e5153f"/>
<rect x="105.2" y="628.5" width="6.0" height="6.0" fill="#173a75"/>
<rect x="116.4" y="576.6" width="6.0" height="6.0" fill="#e5153f"/>
<rect x="116.4" y="587.7" width="6.0" height="6.0" fill="#e5153f"/>
<rect x="116.4" y="595.0" width="6.0" height="6.0" fill="#e5153f"/>
<rect x="116.4" y="607.8" width="6.0" height="6.0" fill="#173a75"/>
<rect x="116.4" y="616.5" width="6.0" height="6.0" fill="#e5153f"/>
<rect x="127.6" y="583.5" width="6.0" height="6.0" fill="#e5153f"/>
<rect x="127.6" y="587.7" width="6.0" height="6.0" fill="#e5153f"/>
<rect x="127.6" y="601.5" width="6.0" height="6.0" fill="#e5153f"/>
<rect x="127.6" y="619.3" width="6.0" height="6.0" fill="#e5153f"/>
<rect x="127.6" y="630.8" width="6.0" height="6.0" fill="#173a75"/>
<rect x="138.9" y="572.0" width="6.0" height="6.0" fill="#e5153f"/>
<rect x="138.9" y="592.0" width="6.0" height="6.0" fill="#173a75"/>
<rect x="138.9" y="604.3" width="6.0" height="6.0" fill="#e5153f"/>
<rect x="138.9" y="616.5" width="6.0" height="6.0" fill="#173a75"/>
<rect x="150.1" y="590.5" width="6.0" height="6.0" fill="#e5153f"/>
<rect x="150.1" y="603.0" width="6.0" height="6.0" fill="#e5153f"/>
<rect x="150.1" y="609.0" width="6.0" height="6.0" fill="#e5153f"/>
<rect x="161.4" y="592.0" width="6.0" height="6.0" fill="#173a75"/>
<rect x="161.4" y="598.0" width="6.0" height="6.0" fill="#e5153f"/>
<rect x="161.4" y="606.6" width="6.0" height="6.0" fill="#e5153f"/>
<rect x="172.6" y="577.0" width="6.0" height="6.0" fill="#e5153f"/>
<rect x="172.6" y="586.5" width="6.0" height="6.0" fill="#173a75"/>
<rect x="172.6" y="610.0" width="6.0" height="6.0" fill="#e5153f"/>
<rect x="172.6" y="616.0" width="6.0" height="6.0" fill="#e5153f"/>
<rect x="183.8" y="581.0" width="6.0" height="6.0" fill="#e5153f"/>
<rect x="183.8" y="584.7" width="6.0" height="6.0" fill="#e5153f"/>
<rect x="183.8" y="604.3" width="6.0" height="6.0" fill="#e5153f"/>
<rect x="183.8" y="618.2" width="6.0" height="6.0" fill="#e0126a"/>
<rect x="183.8" y="613.5" width="6.0" height="6.0" fill="#e5153f"/>
<rect x="195.1" y="595.8" width="6.0" height="6.0" fill="#173a75"/>
<rect x="195.1" y="611.2" width="6.0" height="6.0" fill="#e5153f"/>
<rect x="195.1" y="617.0" width="6.0" height="6.0" fill="#e5153f"/>
<rect x="195.1" y="626.2" width="6.0" height="6.0" fill="#e5153f"/>
<rect x="206.3" y="573.6" width="6.0" height="6.0" fill="#e5153f"/>
<rect x="206.3" y="579.4" width="6.0" height="6.0" fill="#173a75"/>
<rect x="206.3" y="599.2" width="6.0" height="6.0" fill="#e5153f"/>
<rect x="206.3" y="613.5" width="6.0" height="6.0" fill="#e0126a"/>
<rect x="217.6" y="592.8" width="6.0" height="6.0" fill="#173a75"/>
<rect x="217.6" y="604.3" width="6.0" height="6.0" fill="#e5153f"/>
<rect x="217.6" y="613.5" width="6.0" height="6.0" fill="#e5153f"/>
<rect x="217.6" y="619.3" width="6.0" height="6.0" fill="#e5153f"/>
<rect x="228.8" y="577.0" width="6.0" height="6.0" fill="#e5153f"/>
<rect x="228.8" y="596.7" width="6.0" height="6.0" fill="#173a75"/>
<rect x="228.8" y="609.0" width="6.0" height="6.0" fill="#e0126a"/>
<rect x="240.0" y="602.0" width="6.0" height="6.0" fill="#173a75"/>
<rect x="240.0" y="605.0" width="6.0" height="6.0" fill="#e0126a"/>
<rect x="240.0" y="623.5" width="6.0" height="6.0" fill="#e5153f"/>
<rect x="251.3" y="588.0" width="6.0" height="6.0" fill="#e5153f"/>
<rect x="251.3" y="594.0" width="6.0" height="6.0" fill="#e5153f"/>
<rect x="251.3" y="607.3" width="6.0" height="6.0" fill="#e0126a"/>
<rect x="251.3" y="618.8" width="6.0" height="6.0" fill="#173a75"/>
<rect x="262.5" y="570.8" width="6.0" height="6.0" fill="#e5153f"/>
<rect x="262.5" y="598.5" width="6.0" height="6.0" fill="#e5153f"/>
<rect x="262.5" y="605.5" width="6.0" height="6.0" fill="#e5153f"/>
<rect x="273.8" y="586.5" width="6.0" height="6.0" fill="#e5153f"/>
<rect x="273.8" y="594.0" width="6.0" height="6.0" fill="#e5153f"/>
<rect x="273.8" y="599.7" width="6.0" height="6.0" fill="#e5153f"/>
<rect x="273.8" y="620.5" width="6.0" height="6.0" fill="#e5153f"/>
<rect x="285.0" y="568.5" width="6.0" height="6.0" fill="#e5153f"/>
<rect x="285.0" y="579.0" width="6.0" height="6.0" fill="#e5153f"/>
<rect x="285.0" y="589.5" width="6.0" height="6.0" fill="#173a75"/>
<rect x="285.0" y="595.5" width="6.0" height="6.0" fill="#e5153f"/>
<rect x="285.0" y="600.0" width="6.0" height="6.0" fill="#e5153f"/>
<rect x="285.0" y="625.5" width="6.0" height="6.0" fill="#e5153f"/>
<rect x="296.2" y="584.4" width="6.0" height="6.0" fill="#e5153f"/>
<rect x="296.2" y="602.8" width="6.0" height="6.0" fill="#173a75"/>
<rect x="296.2" y="617.4" width="6.0" height="6.0" fill="#e5153f"/>
<rect x="296.2" y="629.6" width="6.0" height="6.0" fill="#e5153f"/>
<rect x="307.5" y="587.4" width="6.0" height="6.0" fill="#e5153f"/>
<rect x="307.5" y="592.0" width="6.0" height="6.0" fill="#e5153f"/>
<rect x="307.5" y="602.4" width="6.0" height="6.0" fill="#173a75"/>
<rect x="318.7" y="557.4" width="6.0" height="6.0" fill="#e5153f"/>
<rect x="318.7" y="571.2" width="6.0" height="6.0" fill="#173a75"/>
<rect x="318.7" y="582.0" width="6.0" height="6.0" fill="#173a75"/>
<rect x="318.7" y="593.8" width="6.0" height="6.0" fill="#e5153f"/>
<rect x="318.7" y="606.5" width="6.0" height="6.0" fill="#e5153f"/>
<rect x="318.7" y="623.6" width="6.0" height="6.0" fill="#e5153f"/>
<rect x="330.0" y="572.0" width="6.0" height="6.0" fill="#e5153f"/>
<rect x="330.0" y="577.0" width="6.0" height="6.0" fill="#e5153f"/>
<rect x="330.0" y="586.2" width="6.0" height="6.0" fill="#e5153f"/>
<rect x="330.0" y="594.3" width="6.0" height="6.0" fill="#173a75"/>
<rect x="341.2" y="551.2" width="6.0" height="6.0" fill="#e5153f"/>
<rect x="341.2" y="559.7" width="6.0" height="6.0" fill="#e5153f"/>
<rect x="341.2" y="566.6" width="6.0" height="6.0" fill="#e5153f"/>
<rect x="341.2" y="574.2" width="6.0" height="6.0" fill="#173a75"/>
<rect x="341.2" y="585.8" width="6.0" height="6.0" fill="#e5153f"/>
<rect x="363.7" y="603.6" width="6.0" height="6.0" fill="#e0126a"/>
<rect x="374.9" y="573.3" width="6.0" height="6.0" fill="#e5153f"/>
<rect x="352.4" y="627.3" width="6.0" height="6.0" fill="#e5153f"/>
<rect x="363.7" y="583.7" width="6.0" height="6.0" fill="#e5153f"/>
<rect x="374.9" y="564.7" width="6.0" height="6.0" fill="#e5153f"/>
<rect x="386.2" y="532.0" width="6.0" height="6.0" fill="#e5153f"/>
<rect x="352.4" y="550.0" width="6.0" height="6.0" fill="#e5153f"/>
<rect x="363.7" y="530.8" width="6.0" height="6.0" fill="#e5153f"/>
<rect x="374.9" y="510.5" width="6.0" height="6.0" fill="#e5153f"/>
<rect x="386.2" y="492.0" width="6.0" height="6.0" fill="#e5153f"/>
<rect x="397.4" y="476.0" width="6.0" height="6.0" fill="#e5153f"/>
<rect x="408.6" y="466.0" width="6.0" height="6.0" fill="#e5153f"/>
<rect x="419.9" y="458.0" width="6.0" height="6.0" fill="#e5153f"/>
<rect x="431.1" y="452.5" width="6.0" height="6.0" fill="#e5153f"/>
<rect x="442.4" y="447.0" width="6.0" height="6.0" fill="#e5153f"/>
<rect x="453.6" y="443.5" width="6.0" height="6.0" fill="#e5153f"/>
<rect x="464.8" y="440.0" width="6.0" height="6.0" fill="#e5153f"/>
<rect x="476.1" y="438.0" width="6.0" height="6.0" fill="#e5153f"/>
<rect x="487.3" y="436.5" width="6.0" height="6.0" fill="#e5153f"/>
<rect x="498.6" y="435.0" width="6.0" height="6.0" fill="#e5153f"/>
<rect x="509.8" y="433.5" width="6.0" height="6.0" fill="#e5153f"/>
<rect x="341.2" y="566.6" width="6.0" height="6.0" fill="#e5153f"/>
<rect x="352.4" y="554.0" width="6.0" height="6.0" fill="#e5153f"/>
<rect x="363.7" y="537.0" width="6.0" height="6.0" fill="#e5153f"/>
<rect x="374.9" y="518.8" width="6.0" height="6.0" fill="#e5153f"/>
<rect x="386.2" y="499.0" width="6.0" height="6.0" fill="#e5153f"/>
<rect x="397.4" y="482.0" width="6.0" height="6.0" fill="#e5153f"/>
<rect x="408.6" y="470.0" width="6.0" height="6.0" fill="#e5153f"/>
<rect x="419.9" y="462.0" width="6.0" height="6.0" fill="#e5153f"/>
<rect x="431.1" y="456.0" width="6.0" height="6.0" fill="#e5153f"/>
<rect x="442.4" y="451.0" width="6.0" height="6.0" fill="#e5153f"/>
<rect x="453.6" y="447.0" width="6.0" height="6.0" fill="#e5153f"/>
<rect x="464.8" y="444.0" width="6.0" height="6.0" fill="#e5153f"/>
<rect x="476.1" y="441.5" width="6.0" height="6.0" fill="#e5153f"/>
<rect x="487.3" y="439.0" width="6.0" height="6.0" fill="#e5153f"/>
<rect x="498.6" y="437.0" width="6.0" height="6.0" fill="#e5153f"/>
<rect x="509.8" y="435.5" width="6.0" height="6.0" fill="#e5153f"/>
<rect x="341.2" y="559.7" width="6.0" height="6.0" fill="#e5153f"/>
<rect x="352.4" y="552.0" width="6.0" height="6.0" fill="#e5153f"/>
<rect x="363.7" y="544.8" width="6.0" height="6.0" fill="#e5153f"/>
<rect x="374.9" y="530.0" width="6.0" height="6.0" fill="#e5153f"/>
<rect x="386.2" y="510.5" width="6.0" height="6.0" fill="#e5153f"/>
<rect x="397.4" y="497.8" width="6.0" height="6.0" fill="#e5153f"/>
<rect x="408.6" y="489.5" width="6.0" height="6.0" fill="#e5153f"/>
<rect x="419.9" y="476.0" width="6.0" height="6.0" fill="#e5153f"/>
<rect x="431.1" y="466.5" width="6.0" height="6.0" fill="#e5153f"/>
<rect x="442.4" y="458.5" width="6.0" height="6.0" fill="#e5153f"/>
<rect x="453.6" y="452.4" width="6.0" height="6.0" fill="#e5153f"/>
<rect x="464.8" y="447.8" width="6.0" height="6.0" fill="#e5153f"/>
<rect x="476.1" y="443.2" width="6.0" height="6.0" fill="#e5153f"/>
<rect x="487.3" y="439.7" width="6.0" height="6.0" fill="#e5153f"/>
<rect x="498.6" y="437.4" width="6.0" height="6.0" fill="#e5153f"/>
<rect x="509.8" y="435.0" width="6.0" height="6.0" fill="#e5153f"/>
<rect x="330.0" y="586.2" width="6.0" height="6.0" fill="#e5153f"/>
<rect x="341.2" y="585.8" width="6.0" height="6.0" fill="#e5153f"/>
<rect x="352.4" y="605.3" width="6.0" height="6.0" fill="#e5153f"/>
<rect x="363.7" y="563.2" width="6.0" height="6.0" fill="#e5153f"/>
<rect x="374.9" y="546.5" width="6.0" height="6.0" fill="#e5153f"/>
<rect x="386.2" y="525.8" width="6.0" height="6.0" fill="#e5153f"/>
<rect x="397.4" y="505.0" width="6.0" height="6.0" fill="#e5153f"/>
<rect x="408.6" y="492.0" width="6.0" height="6.0" fill="#e5153f"/>
<rect x="419.9" y="480.0" width="6.0" height="6.0" fill="#e5153f"/>
<rect x="431.1" y="470.0" width="6.0" height="6.0" fill="#e5153f"/>
<rect x="442.4" y="462.0" width="6.0" height="6.0" fill="#e5153f"/>
<rect x="453.6" y="455.0" width="6.0" height="6.0" fill="#e5153f"/>
<rect x="464.8" y="450.0" width="6.0" height="6.0" fill="#e5153f"/>
<rect x="476.1" y="445.5" width="6.0" height="6.0" fill="#e5153f"/>
<rect x="487.3" y="442.0" width="6.0" height="6.0" fill="#e5153f"/>
<rect x="498.6" y="439.0" width="6.0" height="6.0" fill="#e5153f"/>
<rect x="509.8" y="437.0" width="6.0" height="6.0" fill="#e5153f"/>
<rect x="397.4" y="587.0" width="6.0" height="6.0" fill="#e0126a"/>
<rect x="408.6" y="540.5" width="6.0" height="6.0" fill="#e0126a"/>
<rect x="419.9" y="520.5" width="6.0" height="6.0" fill="#e0126a"/>
<rect x="431.1" y="504.5" width="6.0" height="6.0" fill="#e0126a"/>
<rect x="442.4" y="489.0" width="6.0" height="6.0" fill="#e0126a"/>
<rect x="453.6" y="475.5" width="6.0" height="6.0" fill="#e0126a"/>
<rect x="464.8" y="466.2" width="6.0" height="6.0" fill="#e0126a"/>
<rect x="476.1" y="459.3" width="6.0" height="6.0" fill="#e0126a"/>
<rect x="487.3" y="454.7" width="6.0" height="6.0" fill="#e0126a"/>
<rect x="498.6" y="450.0" width="6.0" height="6.0" fill="#e0126a"/>
<rect x="509.8" y="446.6" width="6.0" height="6.0" fill="#e0126a"/>
<rect x="386.2" y="616.6" width="6.0" height="6.0" fill="#e0126a"/>
<rect x="397.4" y="604.5" width="6.0" height="6.0" fill="#e0126a"/>
<rect x="408.6" y="553.4" width="6.0" height="6.0" fill="#e0126a"/>
<rect x="419.9" y="524.0" width="6.0" height="6.0" fill="#e0126a"/>
<rect x="431.1" y="506.0" width="6.0" height="6.0" fill="#e0126a"/>
<rect x="442.4" y="493.0" width="6.0" height="6.0" fill="#e0126a"/>
<rect x="453.6" y="479.0" width="6.0" height="6.0" fill="#e0126a"/>
<rect x="464.8" y="469.0" width="6.0" height="6.0" fill="#e0126a"/>
<rect x="476.1" y="461.5" width="6.0" height="6.0" fill="#e0126a"/>
<rect x="487.3" y="456.0" width="6.0" height="6.0" fill="#e0126a"/>
<rect x="498.6" y="452.0" width="6.0" height="6.0" fill="#e0126a"/>
<rect x="509.8" y="448.0" width="6.0" height="6.0" fill="#e0126a"/>
<rect x="341.2" y="574.2" width="6.0" height="6.0" fill="#173a75"/>
<rect x="352.4" y="560.4" width="6.0" height="6.0" fill="#173a75"/>
<rect x="363.7" y="557.0" width="6.0" height="6.0" fill="#173a75"/>
<rect x="374.9" y="559.5" width="6.0" height="6.0" fill="#173a75"/>
<rect x="386.2" y="557.8" width="6.0" height="6.0" fill="#173a75"/>
<rect x="397.4" y="554.0" width="6.0" height="6.0" fill="#173a75"/>
<rect x="408.6" y="529.5" width="6.0" height="6.0" fill="#173a75"/>
<rect x="431.1" y="498.5" width="6.0" height="6.0" fill="#173a75"/>
<rect x="442.4" y="479.0" width="6.0" height="6.0" fill="#173a75"/>
<rect x="453.6" y="469.7" width="6.0" height="6.0" fill="#173a75"/>
<rect x="464.8" y="461.2" width="6.0" height="6.0" fill="#173a75"/>
<rect x="476.1" y="454.7" width="6.0" height="6.0" fill="#173a75"/>
<rect x="487.3" y="450.0" width="6.0" height="6.0" fill="#173a75"/>
<rect x="498.6" y="446.0" width="6.0" height="6.0" fill="#173a75"/>
<rect x="509.8" y="443.6" width="6.0" height="6.0" fill="#173a75"/>
<rect x="363.7" y="577.7" width="6.0" height="6.0" fill="#173a75"/>
<rect x="374.9" y="594.0" width="6.0" height="6.0" fill="#173a75"/>
<rect x="386.2" y="571.6" width="6.0" height="6.0" fill="#173a75"/>
<rect x="397.4" y="560.0" width="6.0" height="6.0" fill="#173a75"/>
<rect x="408.6" y="587.8" width="6.0" height="6.0" fill="#173a75"/>
<rect x="419.9" y="580.0" width="6.0" height="6.0" fill="#173a75"/>
<rect x="431.1" y="544.7" width="6.0" height="6.0" fill="#173a75"/>
<rect x="442.4" y="513.5" width="6.0" height="6.0" fill="#173a75"/>
<rect x="453.6" y="488.2" width="6.0" height="6.0" fill="#173a75"/>
<rect x="464.8" y="476.6" width="6.0" height="6.0" fill="#173a75"/>
<rect x="476.1" y="467.4" width="6.0" height="6.0" fill="#173a75"/>
<rect x="487.3" y="459.3" width="6.0" height="6.0" fill="#173a75"/>
<rect x="498.6" y="452.4" width="6.0" height="6.0" fill="#173a75"/>
<rect x="509.8" y="449.0" width="6.0" height="6.0" fill="#173a75"/>
</g>
<line x1="64.2" y1="538.8" x2="511.9" y2="538.8" stroke="#111" stroke-width="2"/>
<rect x="63.2" y="535.3" width="3.5" height="7" fill="#111"/>
<rect x="508.9" y="535.3" width="3.5" height="7" fill="#111"/>
<ellipse cx="374.5" cy="538.2" rx="24.2" ry="6.5" fill="none" stroke="#111" stroke-width="2"/>
<text x="360.5" y="448.2" font-family="'Liberation Serif', serif" font-weight="bold" font-size="15.3" fill="#111">PR9 Zn-</text>
<text x="312.7" y="475.4" font-family="'Liberation Serif', serif" font-weight="bold" font-size="15.3" fill="#111">PR9 Zn+</text>
<text x="293.3" y="502.8" font-family="'Liberation Serif', serif" font-weight="bold" font-size="15.3" fill="#111">APL</text>
<text x="286" y="520.8" font-family="'Liberation Serif', serif" font-weight="bold" font-size="15.3" fill="#111">patients</text>
<text x="461.5" y="590" font-family="'Liberation Serif', serif" font-weight="bold" font-size="15.3" fill="#111">NB4</text>
<line x1="405.8" y1="449.5" x2="448.0" y2="490.3" stroke="#111" stroke-width="3"/>
<polygon points="454.5,496.5 442.6,493.0 450.6,484.7" fill="#111"/>
<line x1="358.3" y1="476.8" x2="405.9" y2="523.5" stroke="#111" stroke-width="3"/>
<polygon points="412,529.5 400.6,526.1 408.4,518.1" fill="#111"/>
<line x1="338" y1="503.8" x2="358.0" y2="524.2" stroke="#111" stroke-width="3"/>
<polygon points="364,530.3 352.6,526.7 360.6,518.9" fill="#111"/>
<line x1="460.5" y1="578.5" x2="421.8" y2="549.9" stroke="#111" stroke-width="3"/>
<polygon points="414.6,544.6 426.9,546.5 420.0,555.8" fill="#111"/>
<text x="1.6" y="728.3" font-family="'Liberation Sans', sans-serif" font-weight="bold" font-size="25" fill="#111">C</text>
<defs>
<clipPath id="c1"><rect x="0" y="747" width="162.2" height="142"/></clipPath>
<clipPath id="c2"><rect x="175.3" y="747" width="166.6" height="143"/></clipPath>
<clipPath id="c3"><rect x="354.6" y="747" width="166" height="143"/></clipPath>
<filter id="f1" x="-20%" y="-20%" width="140%" height="140%"><feGaussianBlur stdDeviation="1.1"/></filter>
<filter id="f2" x="-30%" y="-30%" width="160%" height="160%"><feGaussianBlur stdDeviation="2"/></filter>
<filter id="f3" x="-30%" y="-30%" width="160%" height="160%"><feGaussianBlur stdDeviation="3"/></filter>
<filter id="f4" x="-40%" y="-40%" width="180%" height="180%"><feGaussianBlur stdDeviation="4"/></filter>
<filter id="f8" x="-50%" y="-50%" width="200%" height="200%"><feGaussianBlur stdDeviation="8"/></filter>
<filter id="tw" x="0" y="0" width="100%" height="100%">
  <feTurbulence type="fractalNoise" baseFrequency="0.45" numOctaves="2" seed="3" result="n"/>
  <feColorMatrix in="n" type="matrix" values="0 0 0 0 1  0 0 0 0 1  0 0 0 0 1  0 0 0 2.4 -1.15"/>
  <feGaussianBlur stdDeviation="0.5"/>
</filter>
<filter id="td" x="0" y="0" width="100%" height="100%">
  <feTurbulence type="fractalNoise" baseFrequency="0.35" numOctaves="2" seed="11" result="n"/>
  <feColorMatrix in="n" type="matrix" values="0 0 0 0 0.2  0 0 0 0 0.12  0 0 0 0 0.25  0 0 0 2.4 -1.2"/>
  <feGaussianBlur stdDeviation="0.6"/>
</filter>
<filter id="mot" x="0" y="0" width="100%" height="100%">
  <feTurbulence type="fractalNoise" baseFrequency="0.11" numOctaves="2" seed="21"/>
  <feColorMatrix type="matrix" values="0 0 0 0 0.12  0 0 0 0 0.06  0 0 0 0 0.16  0 0 0 1.8 -0.75"/>
</filter>
<filter id="motl" x="0" y="0" width="100%" height="100%">
  <feTurbulence type="fractalNoise" baseFrequency="0.13" numOctaves="2" seed="33"/>
  <feColorMatrix type="matrix" values="0 0 0 0 0.95  0 0 0 0 0.85  0 0 0 0 0.9  0 0 0 1.8 -0.8"/>
</filter>
</defs>
<!-- image i -->
<g clip-path="url(#c1)">
<rect x="0" y="747" width="163" height="142" fill="#dfe8f5"/>
<g filter="url(#f8)" opacity="0.75">
<path d="M24 780 Q30 752 60 750 L118 752 Q148 772 148 812 Q150 860 140 889 L12 889 Q8 850 24 780 Z" fill="#cdb6c4"/>
</g>
<ellipse cx="77" cy="766" rx="26" ry="21" fill="#8d98bf" filter="url(#f4)"/>
<g filter="url(#f3)">
<ellipse cx="55" cy="815" rx="28" ry="22" fill="#6b7eb6"/>
<ellipse cx="109" cy="812" rx="24" ry="32" fill="#7687bb"/>
<ellipse cx="75" cy="864" rx="33" ry="30" fill="#687cb6"/>
</g>
<g fill="none" stroke="#9a4f57" stroke-width="2.6" stroke-linecap="round" stroke-linejoin="round" filter="url(#f1)" opacity="0.92">
<path d="M42 786 Q50 781 58 781 Q68 780 76 783 Q81 785 84 790 Q86 798 85 806 Q84 814 83 819 Q81 826 80 830 Q81 834 82 837"/>
<path d="M22 816 Q23 825 27 832"/>
<path d="M108 842 Q113 856 116 871"/>
<path d="M15 871 Q24 881 37 887"/>
<path d="M48 786 Q40 790 33 796" opacity="0.7"/>
</g>
<g opacity="0.55" filter="url(#f1)">
<circle cx="45.9" cy="784.7" r="1.8" fill="#a2626a"/>
<circle cx="52.9" cy="786.0" r="1.1" fill="#a2626a"/>
<circle cx="41.0" cy="764.9" r="1.5" fill="#b07a80"/>
<circle cx="34.9" cy="791.7" r="1.7" fill="#b07a80"/>
<circle cx="45.8" cy="772.8" r="1.0" fill="#a2626a"/>
<circle cx="32.7" cy="763.6" r="2.0" fill="#b07a80"/>
<circle cx="43.3" cy="782.1" r="1.0" fill="#b07a80"/>
<circle cx="35.6" cy="769.4" r="1.0" fill="#b07a80"/>
<circle cx="34.4" cy="768.3" r="1.8" fill="#a2626a"/>
<circle cx="45.1" cy="783.3" r="0.9" fill="#9a5a60"/>
<circle cx="52.2" cy="774.2" r="1.2" fill="#c09098"/>
<circle cx="41.1" cy="762.0" r="1.1" fill="#a2626a"/>
<circle cx="56.4" cy="769.3" r="1.3" fill="#c09098"/>
<circle cx="37.7" cy="778.1" r="0.8" fill="#a2626a"/>
<circle cx="48.6" cy="779.9" r="1.9" fill="#a2626a"/>
<circle cx="56.1" cy="768.8" r="1.2" fill="#9a5a60"/>
<circle cx="50.8" cy="759.3" r="1.7" fill="#9a5a60"/>
<circle cx="36.9" cy="779.4" r="1.9" fill="#9a5a60"/>
<circle cx="34.8" cy="783.1" r="0.9" fill="#9a5a60"/>
<circle cx="35.8" cy="787.0" r="1.6" fill="#9a5a60"/>
<circle cx="43.1" cy="771.2" r="1.1" fill="#9a5a60"/>
<circle cx="52.4" cy="773.2" r="1.3" fill="#a2626a"/>
<circle cx="57.3" cy="780.5" r="1.8" fill="#9a5a60"/>
<circle cx="46.2" cy="786.5" r="0.9" fill="#c09098"/>
<circle cx="37.9" cy="757.4" r="1.3" fill="#b07a80"/>
<circle cx="40.5" cy="774.5" r="1.7" fill="#c09098"/>
<circle cx="34.8" cy="773.8" r="1.9" fill="#a2626a"/>
<circle cx="56.7" cy="780.1" r="1.4" fill="#9a5a60"/>
<circle cx="31.8" cy="774.7" r="1.4" fill="#9a5a60"/>
<circle cx="37.4" cy="778.5" r="0.8" fill="#9a5a60"/>
<circle cx="37.6" cy="783.2" r="1.1" fill="#c09098"/>
<circle cx="36.9" cy="762.1" r="1.8" fill="#c09098"/>
<circle cx="43.5" cy="765.0" r="1.6" fill="#c09098"/>
<circle cx="35.2" cy="775.0" r="1.6" fill="#9a5a60"/>
<circle cx="37.1" cy="780.8" r="1.7" fill="#c09098"/>
<circle cx="114.0" cy="793.1" r="1.8" fill="#c09098"/>
<circle cx="120.7" cy="779.3" r="1.0" fill="#9a5a60"/>
<circle cx="137.5" cy="777.0" r="1.6" fill="#c09098"/>
<circle cx="106.9" cy="790.3" r="1.5" fill="#c09098"/>
<circle cx="112.1" cy="780.3" r="1.8" fill="#9a5a60"/>
<circle cx="106.4" cy="775.4" r="1.6" fill="#b07a80"/>
<circle cx="130.4" cy="763.9" r="1.7" fill="#c09098"/>
<circle cx="138.7" cy="777.2" r="1.5" fill="#c09098"/>
<circle cx="118.6" cy="772.7" r="1.5" fill="#b07a80"/>
<circle cx="109.5" cy="795.7" r="0.8" fill="#c09098"/>
<circle cx="134.7" cy="786.3" r="1.5" fill="#a2626a"/>
<circle cx="122.0" cy="769.3" r="1.2" fill="#9a5a60"/>
<circle cx="138.0" cy="768.9" r="1.2" fill="#b07a80"/>
<circle cx="116.8" cy="791.8" r="1.6" fill="#9a5a60"/>
<circle cx="118.7" cy="762.9" r="1.3" fill="#c09098"/>
<circle cx="124.3" cy="771.4" r="1.9" fill="#a2626a"/>
<circle cx="115.3" cy="770.3" r="1.9" fill="#b07a80"/>
<circle cx="113.0" cy="794.6" r="1.5" fill="#c09098"/>
<circle cx="117.3" cy="766.0" r="1.1" fill="#c09098"/>
<circle cx="115.4" cy="793.6" r="1.0" fill="#9a5a60"/>
<circle cx="129.6" cy="769.2" r="1.1" fill="#a2626a"/>
<circle cx="119.7" cy="768.6" r="1.4" fill="#a2626a"/>
<circle cx="126.4" cy="798.3" r="1.1" fill="#a2626a"/>
<circle cx="131.3" cy="792.4" r="0.8" fill="#9a5a60"/>
<circle cx="109.7" cy="776.9" r="0.8" fill="#c09098"/>
<circle cx="110.7" cy="762.8" r="2.0" fill="#9a5a60"/>
<circle cx="119.7" cy="799.7" r="1.4" fill="#a2626a"/>
<circle cx="111.3" cy="787.2" r="1.5" fill="#a2626a"/>
<circle cx="118.6" cy="771.9" r="1.7" fill="#b07a80"/>
<circle cx="118.2" cy="796.3" r="1.9" fill="#b07a80"/>
<circle cx="117.1" cy="781.3" r="1.6" fill="#c09098"/>
<circle cx="134.3" cy="793.0" r="1.4" fill="#b07a80"/>
<circle cx="136.0" cy="776.5" r="1.7" fill="#9a5a60"/>
<circle cx="133.5" cy="786.6" r="1.3" fill="#9a5a60"/>
<circle cx="125.9" cy="776.8" r="1.2" fill="#b07a80"/>
<circle cx="119.1" cy="780.2" r="1.4" fill="#9a5a60"/>
<circle cx="121.5" cy="774.7" r="1.4" fill="#a2626a"/>
<circle cx="132.8" cy="790.8" r="1.6" fill="#a2626a"/>
<circle cx="113.3" cy="774.9" r="0.9" fill="#c09098"/>
<circle cx="128.0" cy="758.2" r="1.8" fill="#b07a80"/>
<circle cx="124.6" cy="792.3" r="0.9" fill="#b07a80"/>
<circle cx="117.5" cy="764.1" r="1.0" fill="#b07a80"/>
<circle cx="122.2" cy="785.0" r="1.7" fill="#9a5a60"/>
<circle cx="102.3" cy="781.3" r="1.7" fill="#b07a80"/>
<circle cx="127.4" cy="777.5" r="1.2" fill="#9a5a60"/>
<circle cx="111.8" cy="781.0" r="1.6" fill="#9a5a60"/>
<circle cx="136.4" cy="780.4" r="1.5" fill="#9a5a60"/>
<circle cx="133.3" cy="768.5" r="2.0" fill="#b07a80"/>
<circle cx="147.3" cy="826.3" r="1.3" fill="#b07a80"/>
<circle cx="144.3" cy="842.4" r="0.9" fill="#a2626a"/>
<circle cx="141.9" cy="809.1" r="1.9" fill="#c09098"/>
<circle cx="140.6" cy="833.4" r="1.3" fill="#b07a80"/>
<circle cx="148.9" cy="824.3" r="1.8" fill="#a2626a"/>
<circle cx="139.8" cy="806.9" r="1.6" fill="#c09098"/>
<circle cx="137.1" cy="808.8" r="1.2" fill="#9a5a60"/>
<circle cx="145.9" cy="820.3" r="1.7" fill="#9a5a60"/>
<circle cx="143.0" cy="854.4" r="1.3" fill="#9a5a60"/>
<circle cx="140.3" cy="837.4" r="1.5" fill="#b07a80"/>
<circle cx="137.9" cy="797.8" r="0.8" fill="#b07a80"/>
<circle cx="133.9" cy="829.2" r="1.9" fill="#9a5a60"/>
<circle cx="147.8" cy="839.6" r="1.3" fill="#c09098"/>
<circle cx="139.2" cy="805.3" r="1.6" fill="#a2626a"/>
<circle cx="137.5" cy="820.9" r="1.9" fill="#b07a80"/>
<circle cx="141.0" cy="798.8" r="1.8" fill="#9a5a60"/>
<circle cx="143.4" cy="792.7" r="1.9" fill="#9a5a60"/>
<circle cx="148.5" cy="819.5" r="1.9" fill="#a2626a"/>
<circle cx="143.5" cy="827.7" r="1.9" fill="#a2626a"/>
<circle cx="145.7" cy="815.9" r="1.3" fill="#b07a80"/>
<circle cx="144.6" cy="803.1" r="1.0" fill="#a2626a"/>
<circle cx="141.5" cy="842.5" r="1.5" fill="#9a5a60"/>
<circle cx="143.6" cy="804.8" r="1.2" fill="#a2626a"/>
<circle cx="144.6" cy="847.4" r="1.0" fill="#b07a80"/>
<circle cx="133.5" cy="806.7" r="0.9" fill="#c09098"/>
<circle cx="144.5" cy="811.7" r="1.4" fill="#c09098"/>
<circle cx="145.6" cy="822.8" r="0.9" fill="#9a5a60"/>
<circle cx="148.8" cy="847.3" r="1.1" fill="#c09098"/>
<circle cx="131.8" cy="827.7" r="1.6" fill="#a2626a"/>
<circle cx="139.9" cy="852.5" r="0.9" fill="#c09098"/>
<circle cx="138.9" cy="841.2" r="1.9" fill="#b07a80"/>
<circle cx="133.6" cy="830.7" r="1.3" fill="#b07a80"/>
<circle cx="131.7" cy="815.1" r="0.9" fill="#b07a80"/>
<circle cx="142.0" cy="858.5" r="1.1" fill="#a2626a"/>
<circle cx="138.8" cy="818.6" r="1.3" fill="#c09098"/>
<circle cx="140.4" cy="800.6" r="0.8" fill="#9a5a60"/>
<circle cx="143.8" cy="861.3" r="2.0" fill="#a2626a"/>
<circle cx="132.8" cy="828.7" r="1.7" fill="#9a5a60"/>
<circle cx="146.4" cy="815.0" r="1.0" fill="#a2626a"/>
<circle cx="139.4" cy="845.8" r="1.8" fill="#b07a80"/>
<circle cx="135.5" cy="829.4" r="1.1" fill="#b07a80"/>
<circle cx="145.9" cy="860.6" r="1.9" fill="#a2626a"/>
<circle cx="138.4" cy="815.1" r="1.7" fill="#a2626a"/>
<circle cx="147.9" cy="842.3" r="1.7" fill="#a2626a"/>
<circle cx="24.1" cy="876.5" r="1.6" fill="#a2626a"/>
<circle cx="33.3" cy="870.5" r="1.1" fill="#c09098"/>
<circle cx="28.0" cy="850.7" r="1.2" fill="#b07a80"/>
<circle cx="18.4" cy="869.1" r="1.1" fill="#a2626a"/>
<circle cx="27.4" cy="872.4" r="0.8" fill="#a2626a"/>
<circle cx="21.4" cy="878.7" r="1.9" fill="#a2626a"/>
<circle cx="17.4" cy="856.3" r="1.2" fill="#9a5a60"/>
<circle cx="21.5" cy="842.5" r="1.5" fill="#b07a80"/>
<circle cx="33.3" cy="839.0" r="1.4" fill="#b07a80"/>
<circle cx="30.2" cy="841.5" r="1.7" fill="#c09098"/>
<circle cx="35.4" cy="840.1" r="1.2" fill="#b07a80"/>
<circle cx="24.8" cy="856.6" r="1.3" fill="#b07a80"/>
<circle cx="27.0" cy="884.4" r="1.5" fill="#a2626a"/>
<circle cx="31.9" cy="844.8" r="0.8" fill="#b07a80"/>
<circle cx="25.4" cy="879.9" r="1.3" fill="#b07a80"/>
<circle cx="16.4" cy="876.7" r="1.2" fill="#9a5a60"/>
<circle cx="34.5" cy="874.8" r="1.2" fill="#b07a80"/>
<circle cx="36.1" cy="868.5" r="1.9" fill="#a2626a"/>
<circle cx="29.8" cy="854.8" r="1.0" fill="#b07a80"/>
<circle cx="25.7" cy="836.0" r="1.0" fill="#a2626a"/>
<circle cx="34.1" cy="848.6" r="1.9" fill="#9a5a60"/>
<circle cx="25.3" cy="858.4" r="1.4" fill="#a2626a"/>
<circle cx="35.6" cy="853.6" r="0.8" fill="#b07a80"/>
<circle cx="31.7" cy="865.7" r="1.4" fill="#c09098"/>
<circle cx="27.5" cy="869.9" r="1.3" fill="#a2626a"/>
<circle cx="27.2" cy="875.5" r="1.2" fill="#a2626a"/>
<circle cx="31.7" cy="861.2" r="1.1" fill="#a2626a"/>
<circle cx="29.5" cy="878.9" r="1.9" fill="#c09098"/>
<circle cx="19.8" cy="882.3" r="1.1" fill="#b07a80"/>
<circle cx="12.3" cy="873.2" r="1.6" fill="#9a5a60"/>
<circle cx="38.7" cy="869.8" r="1.8" fill="#b07a80"/>
<circle cx="25.5" cy="838.8" r="0.9" fill="#9a5a60"/>
<circle cx="41.2" cy="862.3" r="1.3" fill="#a2626a"/>
<circle cx="31.5" cy="853.7" r="1.7" fill="#b07a80"/>
<circle cx="39.1" cy="865.9" r="1.3" fill="#a2626a"/>
<circle cx="18.0" cy="839.2" r="1.2" fill="#9a5a60"/>
<circle cx="23.2" cy="843.6" r="1.6" fill="#c09098"/>
<circle cx="23.3" cy="856.1" r="1.4" fill="#b07a80"/>
<circle cx="19.7" cy="848.6" r="1.5" fill="#9a5a60"/>
<circle cx="13.7" cy="863.3" r="1.5" fill="#b07a80"/>
<circle cx="23.9" cy="851.0" r="0.9" fill="#9a5a60"/>
<circle cx="33.3" cy="837.2" r="1.4" fill="#a2626a"/>
<circle cx="20.2" cy="878.2" r="1.6" fill="#b07a80"/>
<circle cx="38.6" cy="866.0" r="1.8" fill="#a2626a"/>
<circle cx="13.6" cy="851.5" r="1.2" fill="#a2626a"/>
<circle cx="28.4" cy="856.9" r="1.2" fill="#b07a80"/>
<circle cx="112.8" cy="890.1" r="1.9" fill="#a2626a"/>
<circle cx="91.9" cy="888.8" r="1.0" fill="#9a5a60"/>
<circle cx="92.5" cy="884.5" r="1.6" fill="#a2626a"/>
<circle cx="98.0" cy="879.1" r="2.0" fill="#9a5a60"/>
<circle cx="92.9" cy="883.1" r="1.7" fill="#c09098"/>
<circle cx="115.6" cy="887.7" r="1.2" fill="#a2626a"/>
<circle cx="115.1" cy="881.3" r="1.2" fill="#b07a80"/>
<circle cx="87.4" cy="885.0" r="1.6" fill="#a2626a"/>
<circle cx="104.5" cy="882.6" r="1.2" fill="#a2626a"/>
<circle cx="101.2" cy="879.6" r="1.3" fill="#b07a80"/>
<circle cx="86.3" cy="887.6" r="1.0" fill="#a2626a"/>
<circle cx="103.2" cy="884.2" r="1.0" fill="#c09098"/>
<circle cx="121.3" cy="881.9" r="1.3" fill="#b07a80"/>
<circle cx="116.0" cy="883.3" r="0.8" fill="#9a5a60"/>
<circle cx="103.7" cy="890.5" r="1.8" fill="#a2626a"/>
<circle cx="128.5" cy="884.3" r="1.4" fill="#a2626a"/>
<circle cx="127.4" cy="886.2" r="1.8" fill="#c09098"/>
<circle cx="100.5" cy="879.6" r="1.3" fill="#c09098"/>
<circle cx="109.7" cy="886.4" r="1.5" fill="#b07a80"/>
<circle cx="94.8" cy="889.5" r="1.8" fill="#c09098"/>
<circle cx="24.7" cy="796.1" r="1.2" fill="#b07a80"/>
<circle cx="28.8" cy="811.3" r="2.0" fill="#b07a80"/>
<circle cx="28.3" cy="792.6" r="1.0" fill="#9a5a60"/>
<circle cx="26.6" cy="804.0" r="0.9" fill="#b07a80"/>
<circle cx="34.1" cy="789.8" r="1.6" fill="#a2626a"/>
<circle cx="31.6" cy="791.3" r="1.1" fill="#9a5a60"/>
<circle cx="25.0" cy="798.3" r="1.1" fill="#9a5a60"/>
<circle cx="27.3" cy="793.2" r="1.2" fill="#a2626a"/>
<circle cx="26.5" cy="790.5" r="1.3" fill="#9a5a60"/>
<circle cx="27.9" cy="799.5" r="1.5" fill="#b07a80"/>
</g>
<rect x="0" y="747" width="163" height="142" filter="url(#tw)" opacity="0.4"/>
<rect x="0" y="747" width="163" height="142" filter="url(#td)" opacity="0.22"/>
<rect x="0" y="747" width="163" height="142" filter="url(#mot)" opacity="0.35"/>
</g>
<!-- image ii -->
<g clip-path="url(#c2)">
<rect x="175" y="746" width="167" height="144" fill="#ae6a6c"/>
<g filter="url(#f3)">
<path d="M170 740 L213 740 L210 758 L205 775 L200 792 L195 806 L188 818 L180 828 L170 834 Z" fill="#d0dbef"/>
<path d="M293 740 L312 740 L308 762 L303 782 L298 770 Z" fill="#d0dbef"/>
<ellipse cx="337" cy="842" rx="5" ry="7" fill="#d0dbef"/>
<ellipse cx="188" cy="850" rx="12" ry="24" fill="#bd9ea8"/>
</g>
<g filter="url(#f2)" fill="#bf8f94" opacity="0.8">
<ellipse cx="251.5" cy="781" rx="31" ry="29"/>
<ellipse cx="223" cy="832" rx="24" ry="31"/>
<ellipse cx="273.5" cy="838" rx="27" ry="37"/>
<ellipse cx="334" cy="783" rx="27" ry="34"/>
</g>
<g filter="url(#f2)">
<path d="M230 770 Q238 757 254 758 Q270 760 274 776 Q276 795 262 803 Q246 807 236 800 Q228 790 230 770 Z" fill="#252f74"/>
<ellipse cx="334" cy="783" rx="22" ry="29.5" fill="#2c387f"/>
<ellipse cx="223" cy="831.7" rx="19.4" ry="26" fill="#2c387f"/>
<ellipse cx="273.5" cy="837.6" rx="22.7" ry="32" fill="#27327c"/>
<ellipse cx="218" cy="890" rx="24" ry="25" fill="#2d3981"/>
<ellipse cx="318" cy="886" rx="33" ry="38" fill="#2d3981"/>
</g>
<g filter="url(#f1)">
<ellipse cx="243" cy="828" rx="2.5" ry="2.2" fill="#222"/>
<ellipse cx="251" cy="786" rx="4" ry="2" fill="#8a94c4"/>
<ellipse cx="227" cy="878" rx="3" ry="2" fill="#9aa4d0"/>
</g>
<rect x="175" y="746" width="167" height="144" filter="url(#tw)" opacity="0.25"/>
<rect x="175" y="746" width="167" height="144" filter="url(#td)" opacity="0.35"/>
<rect x="175" y="746" width="167" height="144" filter="url(#mot)" opacity="0.6"/>
<rect x="175" y="746" width="167" height="144" filter="url(#motl)" opacity="0.22"/>
<g filter="url(#f3)" opacity="0.45">
<path d="M170 740 L211 740 L208 758 L203 775 L198 792 L192 806 L185 818 L178 826 L170 830 Z" fill="#d4def2"/>
<path d="M294 740 L310 740 L306 760 L302 778 L298 768 Z" fill="#d4def2"/>
</g>
</g>
<!-- image iii -->
<g clip-path="url(#c3)">
<rect x="354" y="746" width="167" height="144" fill="#ac5a62"/>
<g filter="url(#f4)">
<path d="M350 740 L430 740 L438 755 L446 788 L430 792 L412 782 L398 776 L380 772 L350 775 Z" fill="#e4dae2"/>
<path d="M489 808 L514 798 L525 796 L525 895 L491 895 L484 868 L476 846 L480 826 Z" fill="#e3e6ee"/>
<path d="M512 745 L525 745 L525 800 L512 798 Z" fill="#d4bcc6"/>
<path d="M350 785 L380 790 L392 815 L388 848 L350 850 Z" fill="#864660"/>
<path d="M395 850 L440 848 L445 889 L400 889 Z" fill="#8e4e62" opacity="0.8"/>
</g>
<g filter="url(#f2)" fill="#c08a98" opacity="0.7">
<ellipse cx="405" cy="768" rx="14" ry="8"/>
<ellipse cx="434" cy="770" rx="12" ry="12"/>
</g>
<g filter="url(#f2)">
<ellipse cx="440" cy="751" rx="16" ry="7" fill="#34478e"/>
<ellipse cx="411.5" cy="757" rx="11.5" ry="9" fill="#cdd3e2"/>
<ellipse cx="478.8" cy="775.3" rx="32.8" ry="25.3" fill="#44549e"/>
<ellipse cx="426.6" cy="832" rx="26" ry="24" fill="#384892"/>
<ellipse cx="378" cy="871" rx="25" ry="22.5" fill="#3a4a94"/>
<ellipse cx="462.8" cy="872" rx="20.5" ry="21" fill="#3e4e98"/>
<ellipse cx="359" cy="810" rx="9" ry="26" fill="#58508f"/>
</g>
<g filter="url(#f3)">
<ellipse cx="476" cy="785" rx="10" ry="7.5" fill="#d5d9ea"/>
<ellipse cx="380" cy="874" rx="10" ry="8" fill="#8a94c8" opacity="0.6"/>
<ellipse cx="436" cy="838" rx="8" ry="6" fill="#7a86c0" opacity="0.5"/>
</g>
<rect x="354" y="746" width="167" height="144" filter="url(#tw)" opacity="0.28"/>
<rect x="354" y="746" width="167" height="144" filter="url(#td)" opacity="0.35"/>
<rect x="354" y="746" width="167" height="144" filter="url(#mot)" opacity="0.6"/>
<rect x="354" y="746" width="167" height="144" filter="url(#motl)" opacity="0.35"/>
<g filter="url(#f3)" opacity="0.55">
<path d="M489 808 L514 798 L525 796 L525 895 L491 895 L484 868 L476 846 L480 826 Z" fill="#e8eaf0"/>
<path d="M350 740 L425 740 L420 752 L400 768 L380 771 L350 774 Z" fill="#eee8ee"/>
<ellipse cx="411.5" cy="757" rx="10" ry="8" fill="#dfe3ee"/>
</g>
</g>

<text x="7" y="765.8" font-family="'Liberation Sans', sans-serif" font-weight="bold" font-size="15.5" fill="#111" stroke="#eef2f8" stroke-width="0.6" paint-order="stroke">i</text>
<text x="180.6" y="765.8" font-family="'Liberation Sans', sans-serif" font-weight="bold" font-size="15.5" fill="#111" stroke="#eef2f8" stroke-width="0.6" paint-order="stroke">ii</text>
<text x="359.6" y="766" font-family="'Liberation Sans', sans-serif" font-weight="bold" font-size="15.5" fill="#111" stroke="#eef2f8" stroke-width="0.6" paint-order="stroke">iii</text>
</svg>
</body></html>
